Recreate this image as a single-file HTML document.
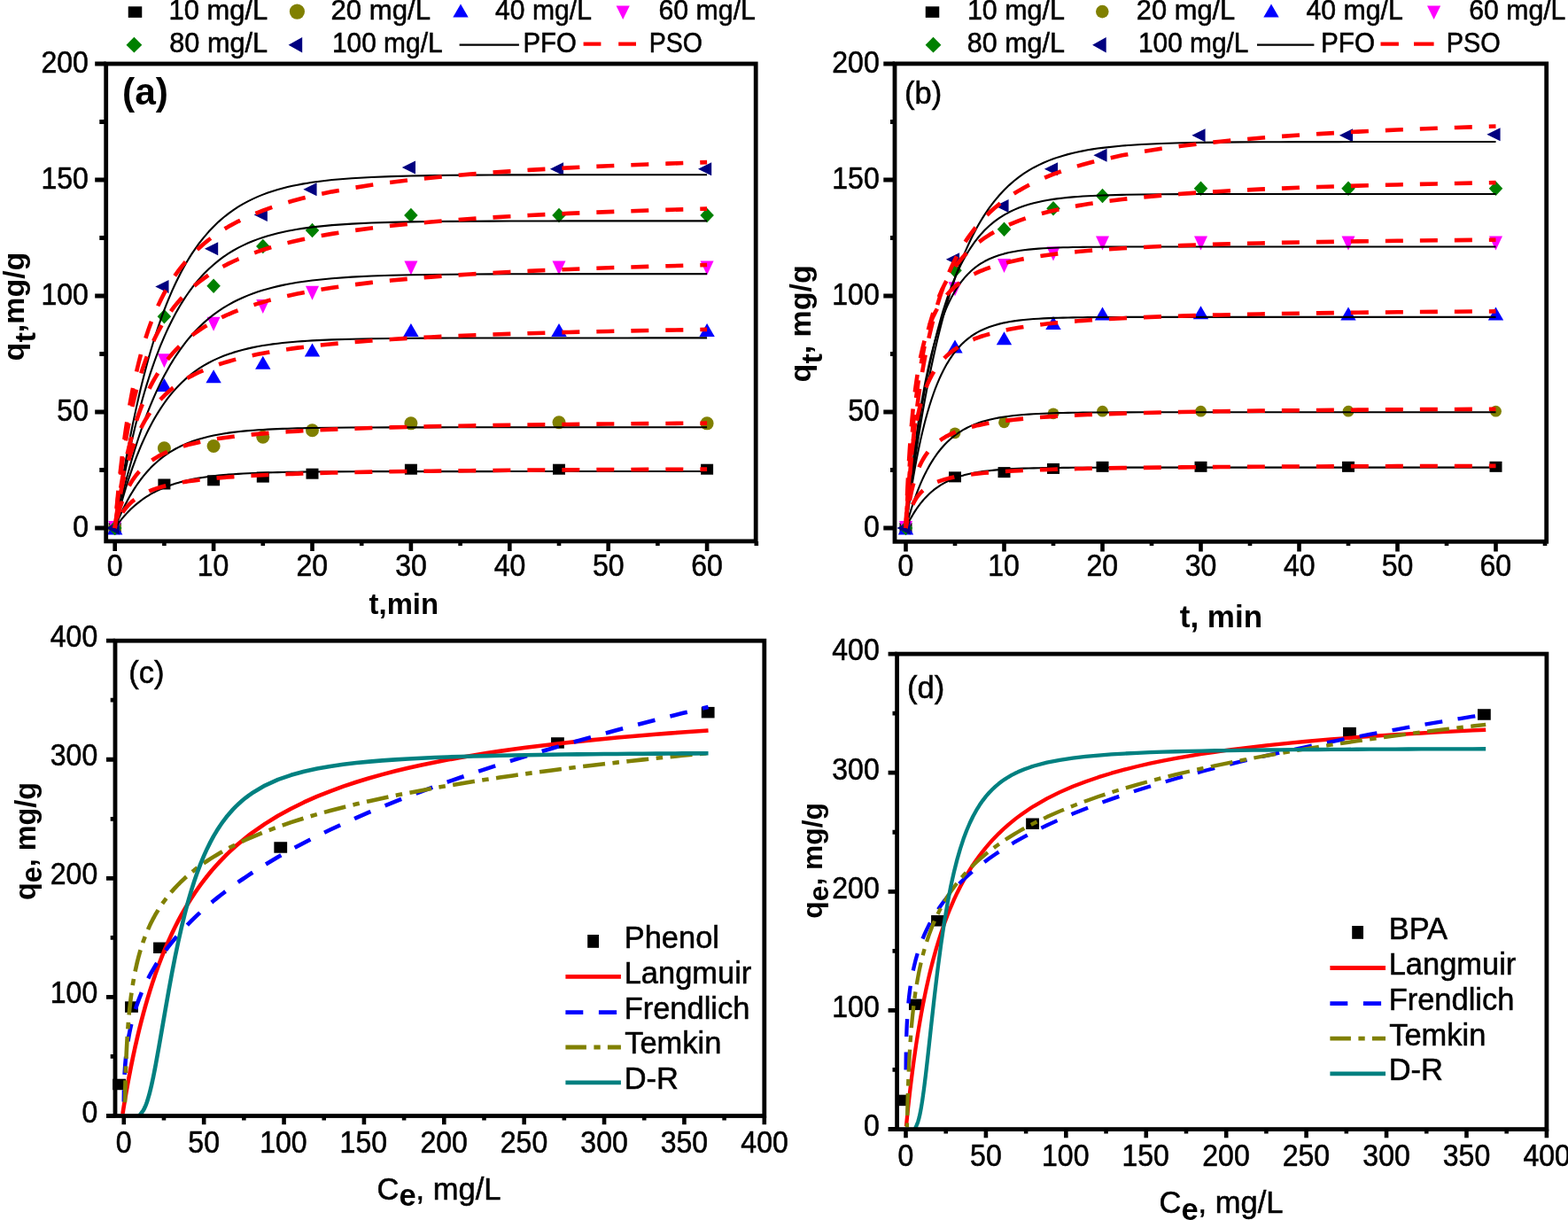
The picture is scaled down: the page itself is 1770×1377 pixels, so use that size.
<!DOCTYPE html><html><head><meta charset="utf-8"><title>Adsorption kinetics and isotherms</title><style>html,body{margin:0;padding:0;background:#fff;overflow:hidden}svg{display:block}</style></head><body><svg width="1770" height="1377" viewBox="0 0 1770 1377" font-family="'Liberation Sans', Arial, sans-serif" fill="#000">
<rect width="1770" height="1377" fill="#fff"/>
<rect x="122.7" y="590" width="14" height="12" fill="#000000"/>
<rect x="178.4" y="540.48" width="14" height="12" fill="#000000"/>
<rect x="234.1" y="536.29" width="14" height="12" fill="#000000"/>
<rect x="289.8" y="532.62" width="14" height="12" fill="#000000"/>
<rect x="345.5" y="528.69" width="14" height="12" fill="#000000"/>
<rect x="456.9" y="523.71" width="14" height="12" fill="#000000"/>
<rect x="624" y="523.71" width="14" height="12" fill="#000000"/>
<rect x="791.1" y="523.71" width="14" height="12" fill="#000000"/>
<circle cx="129.7" cy="596" r="7.5" fill="#808000"/>
<circle cx="185.4" cy="505.87" r="7.5" fill="#808000"/>
<circle cx="241.1" cy="503.51" r="7.5" fill="#808000"/>
<circle cx="296.8" cy="493.3" r="7.5" fill="#808000"/>
<circle cx="352.5" cy="485.7" r="7.5" fill="#808000"/>
<circle cx="463.9" cy="477.84" r="7.5" fill="#808000"/>
<circle cx="631" cy="476.79" r="7.5" fill="#808000"/>
<circle cx="798.1" cy="477.84" r="7.5" fill="#808000"/>
<path d="M129.7,588.5L138.4,603.5L121,603.5Z" fill="#0000ff"/>
<path d="M185.4,427.11L194.1,442.11L176.7,442.11Z" fill="#0000ff"/>
<path d="M241.1,417.15L249.8,432.15L232.4,432.15Z" fill="#0000ff"/>
<path d="M296.8,401.69L305.5,416.69L288.1,416.69Z" fill="#0000ff"/>
<path d="M352.5,387.55L361.2,402.55L343.8,402.55Z" fill="#0000ff"/>
<path d="M463.9,365.01L472.6,380.01L455.2,380.01Z" fill="#0000ff"/>
<path d="M631,365.01L639.7,380.01L622.3,380.01Z" fill="#0000ff"/>
<path d="M798.1,365.01L806.8,380.01L789.4,380.01Z" fill="#0000ff"/>
<path d="M129.7,604L137.2,588L122.2,588Z" fill="#ff00ff"/>
<path d="M185.4,415.36L192.9,399.36L177.9,399.36Z" fill="#ff00ff"/>
<path d="M241.1,373.7L248.6,357.7L233.6,357.7Z" fill="#ff00ff"/>
<path d="M296.8,354.05L304.3,338.05L289.3,338.05Z" fill="#ff00ff"/>
<path d="M352.5,338.86L360,322.86L345,322.86Z" fill="#ff00ff"/>
<path d="M463.9,310.56L471.4,294.56L456.4,294.56Z" fill="#ff00ff"/>
<path d="M631,310.56L638.5,294.56L623.5,294.56Z" fill="#ff00ff"/>
<path d="M798.1,310.56L805.6,294.56L790.6,294.56Z" fill="#ff00ff"/>
<path d="M129.7,587.75L137.45,596L129.7,604.25L121.95,596Z" fill="#008000"/>
<path d="M185.4,349.07L193.15,357.32L185.4,365.57L177.65,357.32Z" fill="#008000"/>
<path d="M241.1,314.48L248.85,322.73L241.1,330.98L233.35,322.73Z" fill="#008000"/>
<path d="M296.8,269.68L304.55,277.93L296.8,286.18L289.05,277.93Z" fill="#008000"/>
<path d="M352.5,251.87L360.25,260.12L352.5,268.37L344.75,260.12Z" fill="#008000"/>
<path d="M463.9,234.84L471.65,243.09L463.9,251.34L456.15,243.09Z" fill="#008000"/>
<path d="M631,234.84L638.75,243.09L631,251.34L623.25,243.09Z" fill="#008000"/>
<path d="M798.1,234.84L805.85,243.09L798.1,251.34L790.35,243.09Z" fill="#008000"/>
<path d="M119.57,596L134.77,588.5L134.77,603.5Z" fill="#000080"/>
<path d="M175.27,323.52L190.47,316.02L190.47,331.02Z" fill="#000080"/>
<path d="M230.97,280.81L246.17,273.31L246.17,288.31Z" fill="#000080"/>
<path d="M286.67,242.56L301.87,235.06L301.87,250.06Z" fill="#000080"/>
<path d="M342.37,213.74L357.57,206.24L357.57,221.24Z" fill="#000080"/>
<path d="M453.77,189.11L468.97,181.61L468.97,196.61Z" fill="#000080"/>
<path d="M620.87,190.69L636.07,183.19L636.07,198.19Z" fill="#000080"/>
<path d="M787.97,190.69L803.17,183.19L803.17,198.19Z" fill="#000080"/>
<path d="M129.7,596 130.81,594.42 131.93,592.87 133.04,591.36 134.16,589.89 135.27,588.46 136.38,587.06 137.5,585.7 138.61,584.37 139.73,583.07 140.84,581.81 141.95,580.58 143.07,579.37 144.18,578.2 145.3,577.06 146.41,575.94 147.52,574.86 148.64,573.8 149.75,572.76 150.87,571.75 151.98,570.77 154.21,568.87 156.44,567.07 158.66,565.36 160.89,563.73 163.12,562.18 165.35,560.7 167.58,559.3 169.8,557.97 172.03,556.7 174.26,555.5 176.49,554.35 178.72,553.26 180.94,552.22 183.17,551.23 185.4,550.3 187.63,549.4 189.86,548.56 192.08,547.75 194.31,546.98 196.54,546.25 198.77,545.56 201,544.9 203.22,544.27 205.45,543.67 207.68,543.1 209.91,542.56 212.14,542.05 214.36,541.56 216.59,541.1 218.82,540.65 224.39,539.64 229.96,538.75 235.53,537.96 241.1,537.27 246.67,536.65 252.24,536.11 257.81,535.64 263.38,535.22 268.95,534.85 274.52,534.52 280.09,534.23 285.66,533.98 291.23,533.75 296.8,533.55 302.37,533.38 307.94,533.22 313.51,533.09 319.08,532.97 324.65,532.86 330.22,532.77 335.79,532.69 341.36,532.61 346.93,532.55 352.5,532.49 374.78,532.33 397.06,532.23 419.34,532.17 441.62,532.13 463.9,532.11 486.18,532.09 508.46,532.08 530.74,532.08 553.02,532.08 575.3,532.07 597.58,532.07 619.86,532.07 642.14,532.07 664.42,532.07 686.7,532.07 708.98,532.07 731.26,532.07 753.54,532.07 775.82,532.07 798.1,532.07" fill="none" stroke="#000" stroke-width="2.1" stroke-linejoin="round"/>
<path d="M129.7,596 130.81,593.18 131.93,590.43 133.04,587.75 134.16,585.14 135.27,582.59 136.38,580.1 137.5,577.68 138.61,575.31 139.73,573.01 140.84,570.76 141.95,568.57 143.07,566.43 144.18,564.34 145.3,562.31 146.41,560.33 147.52,558.39 148.64,556.5 149.75,554.67 150.87,552.87 151.98,551.12 154.21,547.75 156.44,544.55 158.66,541.5 160.89,538.6 163.12,535.84 165.35,533.22 167.58,530.73 169.8,528.36 172.03,526.1 174.26,523.96 176.49,521.92 178.72,519.98 180.94,518.13 183.17,516.38 185.4,514.71 187.63,513.12 189.86,511.61 192.08,510.18 194.31,508.81 196.54,507.51 198.77,506.28 201,505.1 203.22,503.99 205.45,502.92 207.68,501.91 209.91,500.95 212.14,500.04 214.36,499.17 216.59,498.34 218.82,497.56 224.39,495.76 229.96,494.17 235.53,492.77 241.1,491.53 246.67,490.44 252.24,489.48 257.81,488.63 263.38,487.89 268.95,487.23 274.52,486.64 280.09,486.13 285.66,485.68 291.23,485.28 296.8,484.93 302.37,484.62 307.94,484.34 313.51,484.1 319.08,483.89 324.65,483.7 330.22,483.53 335.79,483.39 341.36,483.26 346.93,483.14 352.5,483.04 374.78,482.75 397.06,482.57 419.34,482.46 441.62,482.39 463.9,482.35 486.18,482.33 508.46,482.31 530.74,482.31 553.02,482.3 575.3,482.3 597.58,482.3 619.86,482.29 642.14,482.29 664.42,482.29 686.7,482.29 708.98,482.29 731.26,482.29 753.54,482.29 775.82,482.29 798.1,482.29" fill="none" stroke="#000" stroke-width="2.1" stroke-linejoin="round"/>
<path d="M129.7,596 130.81,591.46 131.93,587.01 133.04,582.66 134.16,578.4 135.27,574.23 136.38,570.14 137.5,566.15 138.61,562.24 139.73,558.41 140.84,554.66 141.95,550.99 143.07,547.4 144.18,543.89 145.3,540.45 146.41,537.08 147.52,533.79 148.64,530.56 149.75,527.4 150.87,524.31 151.98,521.29 154.21,515.43 156.44,509.81 158.66,504.43 160.89,499.28 163.12,494.34 165.35,489.61 167.58,485.08 169.8,480.73 172.03,476.57 174.26,472.59 176.49,468.77 178.72,465.11 180.94,461.6 183.17,458.24 185.4,455.02 187.63,451.94 189.86,448.99 192.08,446.16 194.31,443.44 196.54,440.84 198.77,438.35 201,435.97 203.22,433.68 205.45,431.49 207.68,429.4 209.91,427.39 212.14,425.46 214.36,423.62 216.59,421.85 218.82,420.15 224.39,416.22 229.96,412.69 235.53,409.52 241.1,406.67 246.67,404.11 252.24,401.8 257.81,399.74 263.38,397.88 268.95,396.21 274.52,394.71 280.09,393.36 285.66,392.15 291.23,391.06 296.8,390.08 302.37,389.2 307.94,388.41 313.51,387.7 319.08,387.07 324.65,386.49 330.22,385.98 335.79,385.52 341.36,385.1 346.93,384.73 352.5,384.39 374.78,383.36 397.06,382.68 419.34,382.24 441.62,381.96 463.9,381.77 486.18,381.65 508.46,381.57 530.74,381.52 553.02,381.49 575.3,381.46 597.58,381.45 619.86,381.44 642.14,381.43 664.42,381.43 686.7,381.43 708.98,381.43 731.26,381.42 753.54,381.42 775.82,381.42 798.1,381.42" fill="none" stroke="#000" stroke-width="2.1" stroke-linejoin="round"/>
<path d="M129.7,596 130.81,590.8 131.93,585.69 133.04,580.67 134.16,575.75 135.27,570.91 136.38,566.17 137.5,561.51 138.61,556.93 139.73,552.44 140.84,548.02 141.95,543.69 143.07,539.44 144.18,535.26 145.3,531.16 146.41,527.13 147.52,523.18 148.64,519.3 149.75,515.49 150.87,511.74 151.98,508.07 154.21,500.92 156.44,494.03 158.66,487.38 160.89,480.97 163.12,474.8 165.35,468.84 167.58,463.1 169.8,457.57 172.03,452.23 174.26,447.09 176.49,442.13 178.72,437.35 180.94,432.74 183.17,428.3 185.4,424.01 187.63,419.88 189.86,415.9 192.08,412.07 194.31,408.37 196.54,404.8 198.77,401.36 201,398.04 203.22,394.85 205.45,391.77 207.68,388.8 209.91,385.93 212.14,383.17 214.36,380.51 216.59,377.94 218.82,375.47 224.39,369.67 229.96,364.37 235.53,359.54 241.1,355.13 246.67,351.11 252.24,347.43 257.81,344.08 263.38,341.03 268.95,338.24 274.52,335.69 280.09,333.36 285.66,331.24 291.23,329.31 296.8,327.54 302.37,325.93 307.94,324.46 313.51,323.12 319.08,321.89 324.65,320.78 330.22,319.76 335.79,318.82 341.36,317.97 346.93,317.2 352.5,316.49 374.78,314.23 397.06,312.66 419.34,311.57 441.62,310.82 463.9,310.29 486.18,309.93 508.46,309.68 530.74,309.5 553.02,309.38 575.3,309.3 597.58,309.24 619.86,309.2 642.14,309.17 664.42,309.15 686.7,309.14 708.98,309.13 731.26,309.12 753.54,309.12 775.82,309.12 798.1,309.11" fill="none" stroke="#000" stroke-width="2.1" stroke-linejoin="round"/>
<path d="M129.7,596 130.81,589.31 131.93,582.74 133.04,576.3 134.16,569.99 135.27,563.8 136.38,557.73 137.5,551.77 138.61,545.93 139.73,540.21 140.84,534.59 141.95,529.08 143.07,523.68 144.18,518.38 145.3,513.19 146.41,508.09 147.52,503.1 148.64,498.2 149.75,493.39 150.87,488.68 151.98,484.06 154.21,475.08 156.44,466.45 158.66,458.15 160.89,450.16 163.12,442.48 165.35,435.1 167.58,427.99 169.8,421.16 172.03,414.59 174.26,408.27 176.49,402.19 178.72,396.35 180.94,390.73 183.17,385.32 185.4,380.12 187.63,375.12 189.86,370.31 192.08,365.68 194.31,361.23 196.54,356.96 198.77,352.84 201,348.88 203.22,345.08 205.45,341.42 207.68,337.9 209.91,334.51 212.14,331.25 214.36,328.12 216.59,325.11 218.82,322.21 224.39,315.45 229.96,309.31 235.53,303.74 241.1,298.69 246.67,294.11 252.24,289.95 257.81,286.18 263.38,282.76 268.95,279.66 274.52,276.85 280.09,274.3 285.66,271.98 291.23,269.88 296.8,267.98 302.37,266.25 307.94,264.68 313.51,263.26 319.08,261.97 324.65,260.8 330.22,259.74 335.79,258.77 341.36,257.9 346.93,257.11 352.5,256.39 374.78,254.12 397.06,252.59 419.34,251.55 441.62,250.85 463.9,250.37 486.18,250.05 508.46,249.83 530.74,249.68 553.02,249.58 575.3,249.52 597.58,249.47 619.86,249.44 642.14,249.42 664.42,249.4 686.7,249.39 708.98,249.39 731.26,249.38 753.54,249.38 775.82,249.38 798.1,249.38" fill="none" stroke="#000" stroke-width="2.1" stroke-linejoin="round"/>
<path d="M129.7,596 130.81,588.42 131.93,580.98 133.04,573.68 134.16,566.52 135.27,559.5 136.38,552.61 137.5,545.85 138.61,539.22 139.73,532.72 140.84,526.34 141.95,520.08 143.07,513.94 144.18,507.92 145.3,502.01 146.41,496.21 147.52,490.53 148.64,484.95 149.75,479.48 150.87,474.11 151.98,468.85 154.21,458.61 156.44,448.77 158.66,439.29 160.89,430.17 163.12,421.4 165.35,412.95 167.58,404.83 169.8,397.01 172.03,389.48 174.26,382.24 176.49,375.27 178.72,368.56 180.94,362.11 183.17,355.9 185.4,349.92 187.63,344.17 189.86,338.63 192.08,333.31 194.31,328.18 196.54,323.25 198.77,318.5 201,313.93 203.22,309.54 205.45,305.3 207.68,301.23 209.91,297.32 212.14,293.55 214.36,289.92 216.59,286.43 218.82,283.07 224.39,275.21 229.96,268.07 235.53,261.59 241.1,255.7 246.67,250.35 252.24,245.48 257.81,241.07 263.38,237.06 268.95,233.41 274.52,230.1 280.09,227.09 285.66,224.36 291.23,221.88 296.8,219.62 302.37,217.57 307.94,215.71 313.51,214.02 319.08,212.48 324.65,211.09 330.22,209.82 335.79,208.67 341.36,207.62 346.93,206.67 352.5,205.81 374.78,203.07 397.06,201.21 419.34,199.94 441.62,199.08 463.9,198.49 486.18,198.09 508.46,197.82 530.74,197.63 553.02,197.51 575.3,197.42 597.58,197.36 619.86,197.32 642.14,197.29 664.42,197.28 686.7,197.26 708.98,197.25 731.26,197.25 753.54,197.24 775.82,197.24 798.1,197.24" fill="none" stroke="#000" stroke-width="2.1" stroke-linejoin="round"/>
<path d="M129.7,596 130.81,593.1 131.93,590.44 133.04,587.99 134.16,585.71 135.27,583.6 136.38,581.64 137.5,579.81 138.61,578.1 139.73,576.5 140.84,574.99 141.95,573.57 143.07,572.24 144.18,570.98 145.3,569.78 146.41,568.65 147.52,567.58 148.64,566.56 149.75,565.6 150.87,564.68 151.98,563.8 154.21,562.16 156.44,560.66 158.66,559.28 160.89,558.02 163.12,556.85 165.35,555.76 167.58,554.75 169.8,553.81 172.03,552.93 174.26,552.11 176.49,551.34 178.72,550.61 180.94,549.93 183.17,549.28 185.4,548.67 187.63,548.09 189.86,547.55 192.08,547.03 194.31,546.53 196.54,546.07 198.77,545.62 201,545.19 203.22,544.78 205.45,544.39 207.68,544.02 209.91,543.66 212.14,543.32 214.36,542.99 216.59,542.68 218.82,542.37 224.39,541.67 229.96,541.02 235.53,540.43 241.1,539.89 246.67,539.39 252.24,538.92 257.81,538.49 263.38,538.09 268.95,537.72 274.52,537.37 280.09,537.05 285.66,536.74 291.23,536.46 296.8,536.18 302.37,535.93 307.94,535.69 313.51,535.46 319.08,535.24 324.65,535.04 330.22,534.84 335.79,534.65 341.36,534.48 346.93,534.31 352.5,534.14 374.78,533.56 397.06,533.07 419.34,532.65 441.62,532.28 463.9,531.96 486.18,531.68 508.46,531.42 530.74,531.2 553.02,530.99 575.3,530.81 597.58,530.64 619.86,530.49 642.14,530.35 664.42,530.22 686.7,530.1 708.98,529.99 731.26,529.88 753.54,529.79 775.82,529.7 798.1,529.62" fill="none" stroke="#ff0000" stroke-width="4.6" stroke-dasharray="20 19" stroke-linejoin="round" stroke-dashoffset="19.49"/>
<path d="M129.7,596 130.81,590.84 131.93,586.1 133.04,581.73 134.16,577.68 135.27,573.92 136.38,570.43 137.5,567.16 138.61,564.11 139.73,561.25 140.84,558.57 141.95,556.04 143.07,553.66 144.18,551.42 145.3,549.29 146.41,547.28 147.52,545.37 148.64,543.55 149.75,541.83 150.87,540.18 151.98,538.62 154.21,535.7 156.44,533.02 158.66,530.57 160.89,528.31 163.12,526.22 165.35,524.28 167.58,522.48 169.8,520.81 172.03,519.24 174.26,517.77 176.49,516.39 178.72,515.1 180.94,513.88 183.17,512.73 185.4,511.64 187.63,510.61 189.86,509.63 192.08,508.71 194.31,507.83 196.54,506.99 198.77,506.19 201,505.43 203.22,504.7 205.45,504.01 207.68,503.34 209.91,502.7 212.14,502.09 214.36,501.51 216.59,500.94 218.82,500.4 224.39,499.14 229.96,497.98 235.53,496.93 241.1,495.96 246.67,495.07 252.24,494.24 257.81,493.47 263.38,492.76 268.95,492.1 274.52,491.48 280.09,490.9 285.66,490.35 291.23,489.84 296.8,489.35 302.37,488.9 307.94,488.46 313.51,488.06 319.08,487.67 324.65,487.3 330.22,486.95 335.79,486.62 341.36,486.3 346.93,486 352.5,485.71 374.78,484.67 397.06,483.79 419.34,483.04 441.62,482.39 463.9,481.81 486.18,481.3 508.46,480.85 530.74,480.45 553.02,480.09 575.3,479.76 597.58,479.46 619.86,479.18 642.14,478.93 664.42,478.7 686.7,478.49 708.98,478.29 731.26,478.11 753.54,477.93 775.82,477.78 798.1,477.63" fill="none" stroke="#ff0000" stroke-width="4.6" stroke-dasharray="20 19" stroke-linejoin="round" stroke-dashoffset="27.66"/>
<path d="M129.7,596 130.81,588.05 131.93,580.63 133.04,573.67 134.16,567.15 135.27,561.01 136.38,555.23 137.5,549.77 138.61,544.61 139.73,539.73 140.84,535.1 141.95,530.7 143.07,526.52 144.18,522.54 145.3,518.75 146.41,515.13 147.52,511.68 148.64,508.38 149.75,505.21 150.87,502.19 151.98,499.28 154.21,493.82 156.44,488.77 158.66,484.1 160.89,479.75 163.12,475.7 165.35,471.92 167.58,468.38 169.8,465.07 172.03,461.94 174.26,459.01 176.49,456.24 178.72,453.62 180.94,451.14 183.17,448.79 185.4,446.56 187.63,444.44 189.86,442.43 192.08,440.51 194.31,438.67 196.54,436.93 198.77,435.25 201,433.65 203.22,432.12 205.45,430.65 207.68,429.25 209.91,427.89 212.14,426.59 214.36,425.34 216.59,424.14 218.82,422.98 224.39,420.26 229.96,417.77 235.53,415.49 241.1,413.38 246.67,411.42 252.24,409.61 257.81,407.93 263.38,406.36 268.95,404.89 274.52,403.51 280.09,402.22 285.66,401 291.23,399.86 296.8,398.78 302.37,397.76 307.94,396.79 313.51,395.87 319.08,395 324.65,394.17 330.22,393.38 335.79,392.63 341.36,391.91 346.93,391.22 352.5,390.57 374.78,388.21 397.06,386.2 419.34,384.47 441.62,382.97 463.9,381.64 486.18,380.47 508.46,379.43 530.74,378.49 553.02,377.65 575.3,376.88 597.58,376.19 619.86,375.55 642.14,374.96 664.42,374.42 686.7,373.93 708.98,373.46 731.26,373.03 753.54,372.63 775.82,372.26 798.1,371.91" fill="none" stroke="#ff0000" stroke-width="4.6" stroke-dasharray="20 19" stroke-linejoin="round" stroke-dashoffset="38.98"/>
<path d="M129.7,596 130.81,587.21 131.93,578.9 133.04,571.04 134.16,563.57 135.27,556.49 136.38,549.75 137.5,543.33 138.61,537.22 139.73,531.38 140.84,525.8 141.95,520.47 143.07,515.37 144.18,510.48 145.3,505.79 146.41,501.29 147.52,496.96 148.64,492.81 149.75,488.81 150.87,484.96 151.98,481.25 154.21,474.22 156.44,467.67 158.66,461.56 160.89,455.83 163.12,450.46 165.35,445.4 167.58,440.65 169.8,436.16 172.03,431.92 174.26,427.9 176.49,424.1 178.72,420.48 180.94,417.05 183.17,413.78 185.4,410.67 187.63,407.7 189.86,404.87 192.08,402.15 194.31,399.56 196.54,397.08 198.77,394.69 201,392.41 203.22,390.21 205.45,388.11 207.68,386.08 209.91,384.12 212.14,382.24 214.36,380.43 216.59,378.68 218.82,377 224.39,373.02 229.96,369.37 235.53,366 241.1,362.88 246.67,359.98 252.24,357.28 257.81,354.76 263.38,352.41 268.95,350.2 274.52,348.12 280.09,346.17 285.66,344.33 291.23,342.59 296.8,340.95 302.37,339.39 307.94,337.92 313.51,336.51 319.08,335.18 324.65,333.91 330.22,332.7 335.79,331.54 341.36,330.43 346.93,329.38 352.5,328.37 374.78,324.71 397.06,321.59 419.34,318.9 441.62,316.55 463.9,314.47 486.18,312.63 508.46,310.99 530.74,309.52 553.02,308.18 575.3,306.97 597.58,305.87 619.86,304.86 642.14,303.93 664.42,303.07 686.7,302.28 708.98,301.54 731.26,300.86 753.54,300.22 775.82,299.62 798.1,299.06" fill="none" stroke="#ff0000" stroke-width="4.6" stroke-dasharray="20 19" stroke-linejoin="round" stroke-dashoffset="32.29"/>
<path d="M129.7,596 130.81,584.2 131.93,573.11 133.04,562.68 134.16,552.83 135.27,543.53 136.38,534.74 137.5,526.4 138.61,518.49 139.73,510.98 140.84,503.83 141.95,497.01 143.07,490.52 144.18,484.32 145.3,478.39 146.41,472.72 147.52,467.3 148.64,462.09 149.75,457.1 150.87,452.31 151.98,447.71 154.21,439.02 156.44,430.96 158.66,423.46 160.89,416.48 163.12,409.95 165.35,403.83 167.58,398.09 169.8,392.69 172.03,387.61 174.26,382.8 176.49,378.27 178.72,373.97 180.94,369.9 183.17,366.03 185.4,362.35 187.63,358.85 189.86,355.52 192.08,352.34 194.31,349.3 196.54,346.39 198.77,343.61 201,340.95 203.22,338.39 205.45,335.94 207.68,333.59 209.91,331.32 212.14,329.15 214.36,327.05 216.59,325.03 218.82,323.08 224.39,318.51 229.96,314.32 235.53,310.45 241.1,306.89 246.67,303.58 252.24,300.51 257.81,297.65 263.38,294.98 268.95,292.48 274.52,290.13 280.09,287.93 285.66,285.85 291.23,283.89 296.8,282.04 302.37,280.29 307.94,278.63 313.51,277.06 319.08,275.56 324.65,274.14 330.22,272.78 335.79,271.49 341.36,270.26 346.93,269.08 352.5,267.95 374.78,263.88 397.06,260.41 419.34,257.42 441.62,254.82 463.9,252.53 486.18,250.5 508.46,248.69 530.74,247.06 553.02,245.59 575.3,244.26 597.58,243.05 619.86,241.94 642.14,240.92 664.42,239.98 686.7,239.11 708.98,238.3 731.26,237.55 753.54,236.85 775.82,236.2 798.1,235.59" fill="none" stroke="#ff0000" stroke-width="4.6" stroke-dasharray="20 19" stroke-linejoin="round" stroke-dashoffset="17.54"/>
<path d="M129.7,596 130.81,582.84 131.93,570.45 133.04,558.77 134.16,547.73 135.27,537.3 136.38,527.41 137.5,518.02 138.61,509.11 139.73,500.63 140.84,492.55 141.95,484.85 143.07,477.5 144.18,470.48 145.3,463.76 146.41,457.32 147.52,451.16 148.64,445.24 149.75,439.56 150.87,434.11 151.98,428.86 154.21,418.95 156.44,409.75 158.66,401.18 160.89,393.18 163.12,385.7 165.35,378.69 167.58,372.1 169.8,365.89 172.03,360.05 174.26,354.52 176.49,349.3 178.72,344.35 180.94,339.65 183.17,335.19 185.4,330.94 187.63,326.9 189.86,323.05 192.08,319.37 194.31,315.85 196.54,312.49 198.77,309.27 201,306.18 203.22,303.22 205.45,300.38 207.68,297.65 209.91,295.03 212.14,292.5 214.36,290.07 216.59,287.72 218.82,285.46 224.39,280.15 229.96,275.27 235.53,270.78 241.1,266.62 246.67,262.77 252.24,259.19 257.81,255.86 263.38,252.74 268.95,249.82 274.52,247.08 280.09,244.51 285.66,242.08 291.23,239.8 296.8,237.63 302.37,235.59 307.94,233.65 313.51,231.81 319.08,230.06 324.65,228.39 330.22,226.8 335.79,225.29 341.36,223.84 346.93,222.46 352.5,221.14 374.78,216.37 397.06,212.31 419.34,208.8 441.62,205.74 463.9,203.05 486.18,200.67 508.46,198.54 530.74,196.63 553.02,194.9 575.3,193.34 597.58,191.91 619.86,190.6 642.14,189.4 664.42,188.3 686.7,187.27 708.98,186.32 731.26,185.44 753.54,184.62 775.82,183.85 798.1,183.13" fill="none" stroke="#ff0000" stroke-width="4.6" stroke-dasharray="20 19" stroke-linejoin="round" stroke-dashoffset="16.57"/>
<rect x="119.7" y="72" width="733.5" height="538.9" fill="none" stroke="#000" stroke-width="4.8"/>
<path d="M129.7,610.9V622M241.1,610.9V622M352.5,610.9V622M463.9,610.9V622M575.3,610.9V622M686.7,610.9V622M798.1,610.9V622M185.4,610.9V616M296.8,610.9V616M408.2,610.9V616M519.6,610.9V616M631,610.9V616M742.4,610.9V616M853.8,610.9V616" stroke="#000" stroke-width="4.6"/>
<path d="M119.7,596H107.2M119.7,465H107.2M119.7,334H107.2M119.7,203H107.2M119.7,72H107.2M119.7,530.5H112.3M119.7,399.5H112.3M119.7,268.5H112.3M119.7,137.5H112.3" stroke="#000" stroke-width="4.8"/>
<text transform="translate(120.77,650.2) scale(0.915,1)" font-size="35" stroke="#000" stroke-width="0.55">0</text>
<text transform="translate(222.73,650.2) scale(0.915,1)" font-size="35" stroke="#000" stroke-width="0.55">10</text>
<text transform="translate(334.53,650.2) scale(0.915,1)" font-size="35" stroke="#000" stroke-width="0.55">20</text>
<text transform="translate(446.13,650.2) scale(0.915,1)" font-size="35" stroke="#000" stroke-width="0.55">30</text>
<text transform="translate(557.77,650.2) scale(0.915,1)" font-size="35" stroke="#000" stroke-width="0.55">40</text>
<text transform="translate(668.89,650.2) scale(0.915,1)" font-size="35" stroke="#000" stroke-width="0.55">50</text>
<text transform="translate(780.13,650.2) scale(0.915,1)" font-size="35" stroke="#000" stroke-width="0.55">60</text>
<text transform="translate(82.13,605.8) scale(0.915,1)" font-size="35" stroke="#000" stroke-width="0.55">0</text>
<text transform="translate(64.35,474.8) scale(0.915,1)" font-size="35" stroke="#000" stroke-width="0.55">50</text>
<text transform="translate(46.5,343.8) scale(0.915,1)" font-size="35" stroke="#000" stroke-width="0.55">100</text>
<text transform="translate(46.5,212.8) scale(0.915,1)" font-size="35" stroke="#000" stroke-width="0.55">150</text>
<text transform="translate(46.5,81.8) scale(0.915,1)" font-size="35" stroke="#000" stroke-width="0.55">200</text>
<rect x="1015.5" y="590" width="14" height="12" fill="#000000"/>
<rect x="1071" y="532.36" width="14" height="12" fill="#000000"/>
<rect x="1126.5" y="527.12" width="14" height="12" fill="#000000"/>
<rect x="1182" y="522.93" width="14" height="12" fill="#000000"/>
<rect x="1237.5" y="520.83" width="14" height="12" fill="#000000"/>
<rect x="1348.5" y="520.83" width="14" height="12" fill="#000000"/>
<rect x="1515" y="520.83" width="14" height="12" fill="#000000"/>
<rect x="1681.5" y="520.83" width="14" height="12" fill="#000000"/>
<circle cx="1022.5" cy="596" r="6.4" fill="#808000"/>
<circle cx="1078" cy="488.84" r="6.4" fill="#808000"/>
<circle cx="1133.5" cy="476.79" r="6.4" fill="#808000"/>
<circle cx="1189" cy="466.83" r="6.4" fill="#808000"/>
<circle cx="1244.5" cy="464.21" r="6.4" fill="#808000"/>
<circle cx="1355.5" cy="464.21" r="6.4" fill="#808000"/>
<circle cx="1522" cy="464.21" r="6.4" fill="#808000"/>
<circle cx="1688.5" cy="464.21" r="6.4" fill="#808000"/>
<path d="M1022.5,588.5L1031.2,603.5L1013.8,603.5Z" fill="#0000ff"/>
<path d="M1078,383.62L1086.7,398.62L1069.3,398.62Z" fill="#0000ff"/>
<path d="M1133.5,374.18L1142.2,389.18L1124.8,389.18Z" fill="#0000ff"/>
<path d="M1189,356.89L1197.7,371.89L1180.3,371.89Z" fill="#0000ff"/>
<path d="M1244.5,346.41L1253.2,361.41L1235.8,361.41Z" fill="#0000ff"/>
<path d="M1355.5,345.36L1364.2,360.36L1346.8,360.36Z" fill="#0000ff"/>
<path d="M1522,346.41L1530.7,361.41L1513.3,361.41Z" fill="#0000ff"/>
<path d="M1688.5,346.41L1697.2,361.41L1679.8,361.41Z" fill="#0000ff"/>
<path d="M1022.5,604L1030,588L1015,588Z" fill="#ff00ff"/>
<path d="M1078,334.14L1085.5,318.14L1070.5,318.14Z" fill="#ff00ff"/>
<path d="M1133.5,307.94L1141,291.94L1126,291.94Z" fill="#ff00ff"/>
<path d="M1189,294.58L1196.5,278.58L1181.5,278.58Z" fill="#ff00ff"/>
<path d="M1244.5,282.53L1252,266.53L1237,266.53Z" fill="#ff00ff"/>
<path d="M1355.5,282.53L1363,266.53L1348,266.53Z" fill="#ff00ff"/>
<path d="M1522,282.53L1529.5,266.53L1514.5,266.53Z" fill="#ff00ff"/>
<path d="M1688.5,282.53L1696,266.53L1681,266.53Z" fill="#ff00ff"/>
<path d="M1022.5,587.75L1030.25,596L1022.5,604.25L1014.75,596Z" fill="#008000"/>
<path d="M1078,296.93L1085.75,305.18L1078,313.43L1070.25,305.18Z" fill="#008000"/>
<path d="M1133.5,250.56L1141.25,258.81L1133.5,267.06L1125.75,258.81Z" fill="#008000"/>
<path d="M1189,226.98L1196.75,235.23L1189,243.48L1181.25,235.23Z" fill="#008000"/>
<path d="M1244.5,212.83L1252.25,221.08L1244.5,229.33L1236.75,221.08Z" fill="#008000"/>
<path d="M1355.5,204.44L1363.25,212.69L1355.5,220.94L1347.75,212.69Z" fill="#008000"/>
<path d="M1522,204.44L1529.75,212.69L1522,220.94L1514.25,212.69Z" fill="#008000"/>
<path d="M1688.5,204.44L1696.25,212.69L1688.5,220.94L1680.75,212.69Z" fill="#008000"/>
<path d="M1012.37,596L1027.57,588.5L1027.57,603.5Z" fill="#000080"/>
<path d="M1067.87,292.87L1083.07,285.37L1083.07,300.37Z" fill="#000080"/>
<path d="M1123.37,232.61L1138.57,225.11L1138.57,240.11Z" fill="#000080"/>
<path d="M1178.87,190.69L1194.07,183.19L1194.07,198.19Z" fill="#000080"/>
<path d="M1234.37,175.23L1249.57,167.73L1249.57,182.73Z" fill="#000080"/>
<path d="M1345.37,152.7L1360.57,145.2L1360.57,160.2Z" fill="#000080"/>
<path d="M1511.87,152.7L1527.07,145.2L1527.07,160.2Z" fill="#000080"/>
<path d="M1678.37,151.65L1693.57,144.15L1693.57,159.15Z" fill="#000080"/>
<path d="M1022.5,596 1023.61,593.66 1024.72,591.4 1025.83,589.22 1026.94,587.11 1028.05,585.08 1029.16,583.11 1030.27,581.22 1031.38,579.38 1032.49,577.61 1033.6,575.9 1034.71,574.25 1035.82,572.66 1036.93,571.12 1038.04,569.63 1039.15,568.19 1040.26,566.8 1041.37,565.46 1042.48,564.17 1043.59,562.92 1044.7,561.71 1046.92,559.42 1049.14,557.28 1051.36,555.29 1053.58,553.43 1055.8,551.69 1058.02,550.07 1060.24,548.56 1062.46,547.15 1064.68,545.84 1066.9,544.62 1069.12,543.47 1071.34,542.41 1073.56,541.41 1075.78,540.49 1078,539.62 1080.22,538.81 1082.44,538.06 1084.66,537.36 1086.88,536.7 1089.1,536.09 1091.32,535.52 1093.54,534.99 1095.76,534.5 1097.98,534.03 1100.2,533.6 1102.42,533.2 1104.64,532.82 1106.86,532.47 1109.08,532.15 1111.3,531.84 1116.85,531.17 1122.4,530.6 1127.95,530.13 1133.5,529.72 1139.05,529.39 1144.6,529.11 1150.15,528.87 1155.7,528.67 1161.25,528.5 1166.8,528.36 1172.35,528.24 1177.9,528.14 1183.45,528.06 1189,527.99 1194.55,527.93 1200.1,527.88 1205.65,527.84 1211.2,527.8 1216.75,527.77 1222.3,527.75 1227.85,527.73 1233.4,527.71 1238.95,527.7 1244.5,527.68 1266.7,527.65 1288.9,527.63 1311.1,527.63 1333.3,527.62 1355.5,527.62 1377.7,527.62 1399.9,527.62 1422.1,527.62 1444.3,527.62 1466.5,527.62 1488.7,527.62 1510.9,527.62 1533.1,527.62 1555.3,527.62 1577.5,527.62 1599.7,527.62 1621.9,527.62 1644.1,527.62 1666.3,527.62 1688.5,527.62" fill="none" stroke="#000" stroke-width="2.1" stroke-linejoin="round"/>
<path d="M1022.5,596 1023.61,591.86 1024.72,587.85 1025.83,583.96 1026.94,580.2 1028.05,576.56 1029.16,573.03 1030.27,569.62 1031.38,566.31 1032.49,563.11 1033.6,560.01 1034.71,557.01 1035.82,554.1 1036.93,551.28 1038.04,548.56 1039.15,545.92 1040.26,543.36 1041.37,540.89 1042.48,538.49 1043.59,536.17 1044.7,533.92 1046.92,529.64 1049.14,525.63 1051.36,521.86 1053.58,518.33 1055.8,515.02 1058.02,511.92 1060.24,509.01 1062.46,506.28 1064.68,503.72 1066.9,501.32 1069.12,499.07 1071.34,496.96 1073.56,494.99 1075.78,493.13 1078,491.39 1080.22,489.76 1082.44,488.24 1084.66,486.8 1086.88,485.46 1089.1,484.2 1091.32,483.02 1093.54,481.91 1095.76,480.87 1097.98,479.9 1100.2,478.99 1102.42,478.13 1104.64,477.33 1106.86,476.58 1109.08,475.87 1111.3,475.21 1116.85,473.73 1122.4,472.47 1127.95,471.4 1133.5,470.49 1139.05,469.71 1144.6,469.05 1150.15,468.48 1155.7,468.01 1161.25,467.6 1166.8,467.25 1172.35,466.95 1177.9,466.7 1183.45,466.49 1189,466.31 1194.55,466.15 1200.1,466.02 1205.65,465.91 1211.2,465.81 1216.75,465.73 1222.3,465.66 1227.85,465.6 1233.4,465.55 1238.95,465.51 1244.5,465.47 1266.7,465.37 1288.9,465.32 1311.1,465.29 1333.3,465.28 1355.5,465.27 1377.7,465.27 1399.9,465.26 1422.1,465.26 1444.3,465.26 1466.5,465.26 1488.7,465.26 1510.9,465.26 1533.1,465.26 1555.3,465.26 1577.5,465.26 1599.7,465.26 1621.9,465.26 1644.1,465.26 1666.3,465.26 1688.5,465.26" fill="none" stroke="#000" stroke-width="2.1" stroke-linejoin="round"/>
<path d="M1022.5,596 1023.61,587.58 1024.72,579.46 1025.83,571.62 1026.94,564.06 1028.05,556.77 1029.16,549.73 1030.27,542.95 1031.38,536.4 1032.49,530.09 1033.6,524 1034.71,518.12 1035.82,512.46 1036.93,506.99 1038.04,501.72 1039.15,496.63 1040.26,491.72 1041.37,486.99 1042.48,482.42 1043.59,478.02 1044.7,473.77 1046.92,465.71 1049.14,458.22 1051.36,451.25 1053.58,444.76 1055.8,438.72 1058.02,433.1 1060.24,427.87 1062.46,423.01 1064.68,418.48 1066.9,414.27 1069.12,410.35 1071.34,406.7 1073.56,403.31 1075.78,400.15 1078,397.21 1080.22,394.47 1082.44,391.93 1084.66,389.56 1086.88,387.36 1089.1,385.31 1091.32,383.4 1093.54,381.62 1095.76,379.97 1097.98,378.43 1100.2,377 1102.42,375.67 1104.64,374.43 1106.86,373.28 1109.08,372.21 1111.3,371.21 1116.85,369.01 1122.4,367.17 1127.95,365.63 1133.5,364.35 1139.05,363.28 1144.6,362.38 1150.15,361.63 1155.7,361.01 1161.25,360.49 1166.8,360.05 1172.35,359.69 1177.9,359.38 1183.45,359.13 1189,358.92 1194.55,358.74 1200.1,358.59 1205.65,358.47 1211.2,358.37 1216.75,358.28 1222.3,358.21 1227.85,358.15 1233.4,358.1 1238.95,358.05 1244.5,358.02 1266.7,357.93 1288.9,357.88 1311.1,357.86 1333.3,357.85 1355.5,357.85 1377.7,357.84 1399.9,357.84 1422.1,357.84 1444.3,357.84 1466.5,357.84 1488.7,357.84 1510.9,357.84 1533.1,357.84 1555.3,357.84 1577.5,357.84 1599.7,357.84 1621.9,357.84 1644.1,357.84 1666.3,357.84 1688.5,357.84" fill="none" stroke="#000" stroke-width="2.1" stroke-linejoin="round"/>
<path d="M1022.5,596 1023.61,584.5 1024.72,573.41 1025.83,562.72 1026.94,552.43 1028.05,542.5 1029.16,532.93 1030.27,523.72 1031.38,514.83 1032.49,506.27 1033.6,498.01 1034.71,490.06 1035.82,482.39 1036.93,475.01 1038.04,467.89 1039.15,461.02 1040.26,454.41 1041.37,448.03 1042.48,441.89 1043.59,435.97 1044.7,430.26 1046.92,419.46 1049.14,409.43 1051.36,400.11 1053.58,391.46 1055.8,383.42 1058.02,375.95 1060.24,369.02 1062.46,362.57 1064.68,356.59 1066.9,351.03 1069.12,345.87 1071.34,341.07 1073.56,336.62 1075.78,332.48 1078,328.64 1080.22,325.07 1082.44,321.75 1084.66,318.67 1086.88,315.81 1089.1,313.15 1091.32,310.68 1093.54,308.39 1095.76,306.26 1097.98,304.28 1100.2,302.45 1102.42,300.74 1104.64,299.15 1106.86,297.68 1109.08,296.31 1111.3,295.04 1116.85,292.25 1122.4,289.92 1127.95,287.99 1133.5,286.39 1139.05,285.05 1144.6,283.94 1150.15,283.02 1155.7,282.25 1161.25,281.61 1166.8,281.08 1172.35,280.64 1177.9,280.27 1183.45,279.96 1189,279.71 1194.55,279.5 1200.1,279.32 1205.65,279.18 1211.2,279.06 1216.75,278.95 1222.3,278.87 1227.85,278.8 1233.4,278.74 1238.95,278.69 1244.5,278.65 1266.7,278.55 1288.9,278.5 1311.1,278.48 1333.3,278.47 1355.5,278.46 1377.7,278.46 1399.9,278.46 1422.1,278.46 1444.3,278.46 1466.5,278.46 1488.7,278.46 1510.9,278.46 1533.1,278.46 1555.3,278.46 1577.5,278.46 1599.7,278.46 1621.9,278.46 1644.1,278.46 1666.3,278.46 1688.5,278.46" fill="none" stroke="#000" stroke-width="2.1" stroke-linejoin="round"/>
<path d="M1022.5,596 1023.61,585.7 1024.72,575.68 1025.83,565.94 1026.94,556.46 1028.05,547.24 1029.16,538.27 1030.27,529.55 1031.38,521.06 1032.49,512.81 1033.6,504.78 1034.71,496.97 1035.82,489.38 1036.93,481.99 1038.04,474.81 1039.15,467.82 1040.26,461.02 1041.37,454.41 1042.48,447.98 1043.59,441.72 1044.7,435.63 1046.92,423.96 1049.14,412.91 1051.36,402.46 1053.58,392.57 1055.8,383.22 1058.02,374.36 1060.24,365.99 1062.46,358.07 1064.68,350.57 1066.9,343.48 1069.12,336.77 1071.34,330.42 1073.56,324.42 1075.78,318.73 1078,313.36 1080.22,308.27 1082.44,303.46 1084.66,298.91 1086.88,294.6 1089.1,290.52 1091.32,286.67 1093.54,283.02 1095.76,279.57 1097.98,276.3 1100.2,273.22 1102.42,270.29 1104.64,267.53 1106.86,264.91 1109.08,262.44 1111.3,260.09 1116.85,254.78 1122.4,250.15 1127.95,246.12 1133.5,242.61 1139.05,239.55 1144.6,236.89 1150.15,234.57 1155.7,232.56 1161.25,230.8 1166.8,229.27 1172.35,227.94 1177.9,226.78 1183.45,225.77 1189,224.9 1194.55,224.13 1200.1,223.47 1205.65,222.89 1211.2,222.38 1216.75,221.94 1222.3,221.56 1227.85,221.22 1233.4,220.93 1238.95,220.68 1244.5,220.46 1266.7,219.83 1288.9,219.47 1311.1,219.26 1333.3,219.14 1355.5,219.07 1377.7,219.04 1399.9,219.01 1422.1,219 1444.3,218.99 1466.5,218.99 1488.7,218.99 1510.9,218.98 1533.1,218.98 1555.3,218.98 1577.5,218.98 1599.7,218.98 1621.9,218.98 1644.1,218.98 1666.3,218.98 1688.5,218.98" fill="none" stroke="#000" stroke-width="2.1" stroke-linejoin="round"/>
<path d="M1022.5,596 1023.61,587.03 1024.72,578.24 1025.83,569.63 1026.94,561.2 1028.05,552.94 1029.16,544.85 1030.27,536.93 1031.38,529.17 1032.49,521.57 1033.6,514.13 1034.71,506.84 1035.82,499.7 1036.93,492.71 1038.04,485.86 1039.15,479.15 1040.26,472.58 1041.37,466.15 1042.48,459.85 1043.59,453.68 1044.7,447.63 1046.92,435.91 1049.14,424.67 1051.36,413.89 1053.58,403.54 1055.8,393.62 1058.02,384.1 1060.24,374.97 1062.46,366.22 1064.68,357.81 1066.9,349.76 1069.12,342.03 1071.34,334.61 1073.56,327.5 1075.78,320.67 1078,314.13 1080.22,307.85 1082.44,301.83 1084.66,296.05 1086.88,290.51 1089.1,285.19 1091.32,280.09 1093.54,275.2 1095.76,270.5 1097.98,266 1100.2,261.69 1102.42,257.54 1104.64,253.57 1106.86,249.76 1109.08,246.1 1111.3,242.6 1116.85,234.44 1122.4,227.09 1127.95,220.47 1133.5,214.5 1139.05,209.12 1144.6,204.27 1150.15,199.9 1155.7,195.96 1161.25,192.41 1166.8,189.21 1172.35,186.33 1177.9,183.73 1183.45,181.39 1189,179.28 1194.55,177.38 1200.1,175.67 1205.65,174.12 1211.2,172.73 1216.75,171.48 1222.3,170.35 1227.85,169.33 1233.4,168.41 1238.95,167.58 1244.5,166.84 1266.7,164.52 1288.9,162.99 1311.1,161.99 1333.3,161.32 1355.5,160.88 1377.7,160.59 1399.9,160.4 1422.1,160.28 1444.3,160.19 1466.5,160.14 1488.7,160.1 1510.9,160.08 1533.1,160.06 1555.3,160.05 1577.5,160.05 1599.7,160.04 1621.9,160.04 1644.1,160.04 1666.3,160.03 1688.5,160.03" fill="none" stroke="#000" stroke-width="2.1" stroke-linejoin="round"/>
<path d="M1022.5,596 1023.61,590.49 1024.72,585.77 1025.83,581.67 1026.94,578.09 1028.05,574.94 1029.16,572.13 1030.27,569.62 1031.38,567.36 1032.49,565.31 1033.6,563.46 1034.71,561.76 1035.82,560.2 1036.93,558.77 1038.04,557.45 1039.15,556.23 1040.26,555.1 1041.37,554.04 1042.48,553.05 1043.59,552.13 1044.7,551.27 1046.92,549.69 1049.14,548.29 1051.36,547.03 1053.58,545.9 1055.8,544.88 1058.02,543.96 1060.24,543.11 1062.46,542.33 1064.68,541.62 1066.9,540.96 1069.12,540.35 1071.34,539.78 1073.56,539.25 1075.78,538.76 1078,538.3 1080.22,537.87 1082.44,537.46 1084.66,537.08 1086.88,536.72 1089.1,536.38 1091.32,536.06 1093.54,535.75 1095.76,535.46 1097.98,535.19 1100.2,534.93 1102.42,534.68 1104.64,534.44 1106.86,534.21 1109.08,534 1111.3,533.79 1116.85,533.31 1122.4,532.88 1127.95,532.48 1133.5,532.13 1139.05,531.8 1144.6,531.5 1150.15,531.22 1155.7,530.97 1161.25,530.73 1166.8,530.51 1172.35,530.3 1177.9,530.11 1183.45,529.93 1189,529.76 1194.55,529.61 1200.1,529.46 1205.65,529.32 1211.2,529.18 1216.75,529.06 1222.3,528.94 1227.85,528.82 1233.4,528.72 1238.95,528.61 1244.5,528.52 1266.7,528.17 1288.9,527.87 1311.1,527.62 1333.3,527.41 1355.5,527.22 1377.7,527.05 1399.9,526.91 1422.1,526.78 1444.3,526.66 1466.5,526.55 1488.7,526.46 1510.9,526.37 1533.1,526.29 1555.3,526.22 1577.5,526.15 1599.7,526.08 1621.9,526.03 1644.1,525.97 1666.3,525.92 1688.5,525.87" fill="none" stroke="#ff0000" stroke-width="4.6" stroke-dasharray="20 19" stroke-linejoin="round" stroke-dashoffset="11.50"/>
<path d="M1022.5,596 1023.61,586.53 1024.72,578.28 1025.83,571.03 1026.94,564.61 1028.05,558.89 1029.16,553.75 1030.27,549.11 1031.38,544.91 1032.49,541.08 1033.6,537.57 1034.71,534.35 1035.82,531.38 1036.93,528.64 1038.04,526.1 1039.15,523.73 1040.26,521.53 1041.37,519.47 1042.48,517.54 1043.59,515.73 1044.7,514.03 1046.92,510.91 1049.14,508.13 1051.36,505.63 1053.58,503.36 1055.8,501.31 1058.02,499.44 1060.24,497.72 1062.46,496.15 1064.68,494.69 1066.9,493.35 1069.12,492.1 1071.34,490.94 1073.56,489.86 1075.78,488.84 1078,487.89 1080.22,487 1082.44,486.16 1084.66,485.37 1086.88,484.63 1089.1,483.92 1091.32,483.25 1093.54,482.62 1095.76,482.02 1097.98,481.45 1100.2,480.9 1102.42,480.38 1104.64,479.89 1106.86,479.42 1109.08,478.96 1111.3,478.53 1116.85,477.52 1122.4,476.62 1127.95,475.79 1133.5,475.04 1139.05,474.35 1144.6,473.72 1150.15,473.13 1155.7,472.59 1161.25,472.09 1166.8,471.62 1172.35,471.19 1177.9,470.78 1183.45,470.4 1189,470.04 1194.55,469.71 1200.1,469.39 1205.65,469.09 1211.2,468.81 1216.75,468.54 1222.3,468.29 1227.85,468.05 1233.4,467.82 1238.95,467.6 1244.5,467.39 1266.7,466.65 1288.9,466.02 1311.1,465.49 1333.3,465.03 1355.5,464.62 1377.7,464.27 1399.9,463.95 1422.1,463.67 1444.3,463.42 1466.5,463.19 1488.7,462.99 1510.9,462.8 1533.1,462.63 1555.3,462.47 1577.5,462.32 1599.7,462.19 1621.9,462.06 1644.1,461.94 1666.3,461.83 1688.5,461.73" fill="none" stroke="#ff0000" stroke-width="4.6" stroke-dasharray="20 19" stroke-linejoin="round" stroke-dashoffset="7.50"/>
<path d="M1022.5,596 1023.61,576.48 1024.72,559.79 1025.83,545.36 1026.94,532.76 1028.05,521.66 1029.16,511.81 1030.27,503.01 1031.38,495.1 1032.49,487.95 1033.6,481.46 1034.71,475.54 1035.82,470.11 1036.93,465.13 1038.04,460.53 1039.15,456.27 1040.26,452.32 1041.37,448.65 1042.48,445.22 1043.59,442.01 1044.7,439.01 1046.92,433.54 1049.14,428.68 1051.36,424.33 1053.58,420.42 1055.8,416.88 1058.02,413.67 1060.24,410.74 1062.46,408.05 1064.68,405.58 1066.9,403.31 1069.12,401.2 1071.34,399.24 1073.56,397.41 1075.78,395.71 1078,394.12 1080.22,392.63 1082.44,391.23 1084.66,389.91 1086.88,388.67 1089.1,387.5 1091.32,386.39 1093.54,385.34 1095.76,384.34 1097.98,383.39 1100.2,382.49 1102.42,381.64 1104.64,380.82 1106.86,380.04 1109.08,379.29 1111.3,378.58 1116.85,376.93 1122.4,375.44 1127.95,374.08 1133.5,372.85 1139.05,371.73 1144.6,370.7 1150.15,369.74 1155.7,368.87 1161.25,368.05 1166.8,367.29 1172.35,366.59 1177.9,365.93 1183.45,365.31 1189,364.73 1194.55,364.19 1200.1,363.68 1205.65,363.19 1211.2,362.73 1216.75,362.3 1222.3,361.89 1227.85,361.5 1233.4,361.13 1238.95,360.78 1244.5,360.45 1266.7,359.25 1288.9,358.24 1311.1,357.38 1333.3,356.64 1355.5,356 1377.7,355.43 1399.9,354.93 1422.1,354.48 1444.3,354.07 1466.5,353.71 1488.7,353.38 1510.9,353.08 1533.1,352.8 1555.3,352.55 1577.5,352.32 1599.7,352.1 1621.9,351.9 1644.1,351.71 1666.3,351.54 1688.5,351.38" fill="none" stroke="#ff0000" stroke-width="4.6" stroke-dasharray="20 19" stroke-linejoin="round" stroke-dashoffset="34.03"/>
<path d="M1022.5,596 1023.61,567.88 1024.72,544.17 1025.83,523.89 1026.94,506.36 1028.05,491.06 1029.16,477.57 1030.27,465.61 1031.38,454.92 1032.49,445.31 1033.6,436.62 1034.71,428.73 1035.82,421.54 1036.93,414.95 1038.04,408.89 1039.15,403.3 1040.26,398.13 1041.37,393.33 1042.48,388.87 1043.59,384.7 1044.7,380.81 1046.92,373.73 1049.14,367.47 1051.36,361.89 1053.58,356.88 1055.8,352.37 1058.02,348.27 1060.24,344.55 1062.46,341.14 1064.68,338.01 1066.9,335.13 1069.12,332.46 1071.34,329.99 1073.56,327.7 1075.78,325.56 1078,323.56 1080.22,321.69 1082.44,319.93 1084.66,318.28 1086.88,316.73 1089.1,315.26 1091.32,313.88 1093.54,312.57 1095.76,311.32 1097.98,310.14 1100.2,309.02 1102.42,307.95 1104.64,306.94 1106.86,305.97 1109.08,305.04 1111.3,304.15 1116.85,302.1 1122.4,300.25 1127.95,298.58 1133.5,297.05 1139.05,295.66 1144.6,294.39 1150.15,293.21 1155.7,292.13 1161.25,291.12 1166.8,290.19 1172.35,289.32 1177.9,288.51 1183.45,287.75 1189,287.03 1194.55,286.36 1200.1,285.73 1205.65,285.14 1211.2,284.58 1216.75,284.05 1222.3,283.54 1227.85,283.06 1233.4,282.61 1238.95,282.18 1244.5,281.77 1266.7,280.3 1288.9,279.07 1311.1,278.01 1333.3,277.11 1355.5,276.32 1377.7,275.62 1399.9,275.01 1422.1,274.46 1444.3,273.97 1466.5,273.52 1488.7,273.12 1510.9,272.75 1533.1,272.41 1555.3,272.11 1577.5,271.82 1599.7,271.56 1621.9,271.31 1644.1,271.09 1666.3,270.87 1688.5,270.68" fill="none" stroke="#ff0000" stroke-width="4.6" stroke-dasharray="20 19" stroke-linejoin="round" stroke-dashoffset="2.26"/>
<path d="M1022.5,596 1023.61,575.05 1024.72,556.17 1025.83,539.08 1026.94,523.53 1028.05,509.33 1029.16,496.3 1030.27,484.3 1031.38,473.22 1032.49,462.96 1033.6,453.42 1034.71,444.54 1035.82,436.25 1036.93,428.49 1038.04,421.21 1039.15,414.37 1040.26,407.93 1041.37,401.86 1042.48,396.12 1043.59,390.69 1044.7,385.55 1046.92,376.03 1049.14,367.42 1051.36,359.58 1053.58,352.42 1055.8,345.86 1058.02,339.82 1060.24,334.24 1062.46,329.08 1064.68,324.28 1066.9,319.81 1069.12,315.64 1071.34,311.74 1073.56,308.08 1075.78,304.65 1078,301.41 1080.22,298.36 1082.44,295.48 1084.66,292.75 1086.88,290.17 1089.1,287.71 1091.32,285.39 1093.54,283.17 1095.76,281.06 1097.98,279.05 1100.2,277.13 1102.42,275.29 1104.64,273.53 1106.86,271.85 1109.08,270.24 1111.3,268.69 1116.85,265.09 1122.4,261.82 1127.95,258.84 1133.5,256.11 1139.05,253.61 1144.6,251.29 1150.15,249.16 1155.7,247.17 1161.25,245.33 1166.8,243.61 1172.35,242 1177.9,240.49 1183.45,239.08 1189,237.75 1194.55,236.5 1200.1,235.32 1205.65,234.2 1211.2,233.14 1216.75,232.13 1222.3,231.18 1227.85,230.27 1233.4,229.41 1238.95,228.59 1244.5,227.81 1266.7,225 1288.9,222.62 1311.1,220.59 1333.3,218.83 1355.5,217.29 1377.7,215.93 1399.9,214.73 1422.1,213.65 1444.3,212.68 1466.5,211.81 1488.7,211.01 1510.9,210.28 1533.1,209.62 1555.3,209 1577.5,208.44 1599.7,207.91 1621.9,207.43 1644.1,206.98 1666.3,206.55 1688.5,206.16" fill="none" stroke="#ff0000" stroke-width="4.6" stroke-dasharray="20 19" stroke-linejoin="round" stroke-dashoffset="8.57"/>
<path d="M1022.5,596 1023.61,579.86 1024.72,564.78 1025.83,550.66 1026.94,537.41 1028.05,524.96 1029.16,513.23 1030.27,502.16 1031.38,491.69 1032.49,481.79 1033.6,472.4 1034.71,463.49 1035.82,455.02 1036.93,446.96 1038.04,439.27 1039.15,431.95 1040.26,424.95 1041.37,418.26 1042.48,411.86 1043.59,405.72 1044.7,399.84 1046.92,388.79 1049.14,378.57 1051.36,369.11 1053.58,360.31 1055.8,352.12 1058.02,344.47 1060.24,337.31 1062.46,330.6 1064.68,324.29 1066.9,318.35 1069.12,312.74 1071.34,307.45 1073.56,302.44 1075.78,297.69 1078,293.18 1080.22,288.9 1082.44,284.83 1084.66,280.95 1086.88,277.25 1089.1,273.71 1091.32,270.34 1093.54,267.1 1095.76,264.01 1097.98,261.04 1100.2,258.2 1102.42,255.47 1104.64,252.84 1106.86,250.31 1109.08,247.88 1111.3,245.54 1116.85,240.05 1122.4,235.03 1127.95,230.41 1133.5,226.15 1139.05,222.21 1144.6,218.55 1150.15,215.15 1155.7,211.98 1161.25,209.01 1166.8,206.24 1172.35,203.63 1177.9,201.18 1183.45,198.86 1189,196.68 1194.55,194.62 1200.1,192.67 1205.65,190.81 1211.2,189.05 1216.75,187.38 1222.3,185.79 1227.85,184.27 1233.4,182.82 1238.95,181.44 1244.5,180.12 1266.7,175.36 1288.9,171.31 1311.1,167.82 1333.3,164.78 1355.5,162.11 1377.7,159.75 1399.9,157.65 1422.1,155.76 1444.3,154.06 1466.5,152.52 1488.7,151.11 1510.9,149.82 1533.1,148.64 1555.3,147.56 1577.5,146.55 1599.7,145.62 1621.9,144.75 1644.1,143.95 1666.3,143.19 1688.5,142.48" fill="none" stroke="#ff0000" stroke-width="4.6" stroke-dasharray="20 19" stroke-linejoin="round" stroke-dashoffset="18.10"/>
<rect x="1010" y="71.9" width="735.7" height="539.4" fill="none" stroke="#000" stroke-width="4.8"/>
<path d="M1022.5,611.3V622.5M1133.5,611.3V622.5M1244.5,611.3V622.5M1355.5,611.3V622.5M1466.5,611.3V622.5M1577.5,611.3V622.5M1688.5,611.3V622.5M1078,611.3V616M1189,611.3V616M1300,611.3V616M1411,611.3V616M1522,611.3V616M1633,611.3V616M1744,611.3V616" stroke="#000" stroke-width="4.6"/>
<path d="M1010,596H997.3M1010,465H997.3M1010,334H997.3M1010,203H997.3M1010,72H997.3M1010,530.5H1005M1010,399.5H1005M1010,268.5H1005M1010,137.5H1005" stroke="#000" stroke-width="4.8"/>
<text transform="translate(1013.57,650.2) scale(0.915,1)" font-size="35" stroke="#000" stroke-width="0.55">0</text>
<text transform="translate(1115.13,650.2) scale(0.915,1)" font-size="35" stroke="#000" stroke-width="0.55">10</text>
<text transform="translate(1226.53,650.2) scale(0.915,1)" font-size="35" stroke="#000" stroke-width="0.55">20</text>
<text transform="translate(1337.73,650.2) scale(0.915,1)" font-size="35" stroke="#000" stroke-width="0.55">30</text>
<text transform="translate(1448.97,650.2) scale(0.915,1)" font-size="35" stroke="#000" stroke-width="0.55">40</text>
<text transform="translate(1559.69,650.2) scale(0.915,1)" font-size="35" stroke="#000" stroke-width="0.55">50</text>
<text transform="translate(1670.53,650.2) scale(0.915,1)" font-size="35" stroke="#000" stroke-width="0.55">60</text>
<text transform="translate(974.93,605.8) scale(0.915,1)" font-size="35" stroke="#000" stroke-width="0.55">0</text>
<text transform="translate(957.15,474.8) scale(0.915,1)" font-size="35" stroke="#000" stroke-width="0.55">50</text>
<text transform="translate(939.3,343.8) scale(0.915,1)" font-size="35" stroke="#000" stroke-width="0.55">100</text>
<text transform="translate(939.3,212.8) scale(0.915,1)" font-size="35" stroke="#000" stroke-width="0.55">150</text>
<text transform="translate(939.3,81.8) scale(0.915,1)" font-size="35" stroke="#000" stroke-width="0.55">200</text>
<rect x="127.16" y="1217.72" width="14.8" height="12.5" fill="#000"/>
<rect x="141.08" y="1130.3" width="14.8" height="12.5" fill="#000"/>
<rect x="173.07" y="1063.53" width="14.8" height="12.5" fill="#000"/>
<rect x="309.35" y="950.23" width="14.8" height="12.5" fill="#000"/>
<rect x="622.05" y="832.24" width="14.8" height="12.5" fill="#000"/>
<rect x="791.78" y="797.91" width="14.8" height="12.5" fill="#000"/>
<path d="M138.44,1257.14 138.9,1254.3 139.35,1251.49 139.8,1248.71 140.25,1245.97 140.7,1243.25 141.16,1240.57 141.61,1237.92 142.06,1235.3 142.51,1232.71 142.96,1230.14 143.42,1227.61 144.14,1223.61 144.86,1219.68 145.58,1215.82 146.31,1212.03 147.03,1208.3 147.75,1204.64 148.48,1201.03 149.2,1197.49 149.92,1194 150.65,1190.58 151.37,1187.2 152.09,1183.88 152.81,1180.62 153.54,1177.4 154.26,1174.24 154.98,1171.12 155.71,1168.06 156.43,1165.04 157.15,1162.07 157.88,1159.14 158.6,1156.25 159.32,1153.41 160.04,1150.61 160.77,1147.85 161.49,1145.14 162.21,1142.46 162.94,1139.82 163.66,1137.21 164.38,1134.65 165.11,1132.12 165.83,1129.62 166.55,1127.16 167.27,1124.74 168,1122.34 168.72,1119.98 169.44,1117.65 170.17,1115.36 170.89,1113.09 171.61,1110.85 172.34,1108.65 173.06,1106.47 173.78,1104.32 174.5,1102.19 175.23,1100.1 175.95,1098.03 179.56,1088.06 183.18,1078.7 186.8,1069.87 190.41,1061.55 194.03,1053.67 197.64,1046.22 201.26,1039.16 204.87,1032.46 208.49,1026.08 212.1,1020.02 215.72,1014.24 219.33,1008.72 222.95,1003.46 226.56,998.42 230.18,993.6 233.79,988.99 237.41,984.56 241.02,980.32 244.64,976.24 248.25,972.32 251.87,968.55 255.48,964.92 259.1,961.43 262.71,958.06 266.33,954.81 269.94,951.67 273.56,948.64 277.17,945.71 280.79,942.88 284.4,940.14 299.12,929.86 313.84,920.77 328.55,912.69 343.27,905.46 357.99,898.94 372.71,893.04 387.43,887.68 402.15,882.78 416.86,878.29 431.58,874.16 446.3,870.34 461.02,866.8 475.74,863.52 490.46,860.46 505.17,857.61 519.89,854.94 534.61,852.43 549.33,850.08 564.05,847.86 578.76,845.77 593.48,843.8 608.2,841.93 622.92,840.16 637.64,838.48 652.36,836.89 667.07,835.37 681.79,833.93 696.51,832.55 711.23,831.23 725.95,829.98 740.66,828.77 755.38,827.62 770.1,826.52 784.82,825.46 799.54,824.44" fill="none" stroke="#ff0000" stroke-width="4.6" stroke-linejoin="round"/>
<path d="M139.84,1243.55 139.99,1231.57 140.13,1225.3 140.28,1220.69 140.43,1216.94 140.58,1213.74 140.73,1210.91 140.88,1208.37 141.03,1206.05 141.18,1203.91 141.33,1201.92 141.48,1200.05 141.63,1198.29 141.77,1196.61 141.92,1195.02 142.07,1193.51 142.22,1192.05 142.37,1190.66 142.52,1189.31 142.67,1188.01 142.82,1186.76 142.97,1185.55 143.12,1184.37 143.27,1183.23 143.42,1182.12 144.14,1177.13 144.86,1172.65 145.58,1168.58 146.31,1164.84 147.03,1161.35 147.75,1158.09 148.48,1155.02 149.2,1152.11 149.92,1149.35 150.65,1146.71 151.37,1144.18 152.09,1141.76 152.81,1139.43 153.54,1137.18 154.26,1135.01 154.98,1132.91 155.71,1130.87 156.43,1128.9 157.15,1126.98 157.88,1125.11 158.6,1123.29 159.32,1121.51 160.04,1119.78 160.77,1118.09 161.49,1116.43 162.21,1114.82 162.94,1113.23 163.66,1111.68 164.38,1110.16 165.11,1108.67 165.83,1107.2 166.55,1105.76 167.27,1104.35 168,1102.96 168.72,1101.6 169.44,1100.25 170.17,1098.93 170.89,1097.63 171.61,1096.35 172.34,1095.09 173.06,1093.84 173.78,1092.62 174.5,1091.41 175.23,1090.21 175.95,1089.04 179.56,1083.37 183.18,1078.04 186.8,1072.99 190.41,1068.18 194.03,1063.6 197.64,1059.22 201.26,1055.01 204.87,1050.96 208.49,1047.06 212.1,1043.29 215.72,1039.64 219.33,1036.1 222.95,1032.67 226.56,1029.33 230.18,1026.09 233.79,1022.93 237.41,1019.85 241.02,1016.84 244.64,1013.9 248.25,1011.03 251.87,1008.22 255.48,1005.46 259.1,1002.77 262.71,1000.13 266.33,997.53 269.94,994.99 273.56,992.49 277.17,990.04 280.79,987.63 284.4,985.26 299.12,975.99 313.84,967.26 328.55,959.01 343.27,951.17 357.99,943.7 372.71,936.54 387.43,929.68 402.15,923.09 416.86,916.73 431.58,910.59 446.3,904.65 461.02,898.9 475.74,893.31 490.46,887.89 505.17,882.61 519.89,877.47 534.61,872.46 549.33,867.57 564.05,862.79 578.76,858.12 593.48,853.56 608.2,849.09 622.92,844.71 637.64,840.42 652.36,836.21 667.07,832.08 681.79,828.02 696.51,824.04 711.23,820.12 725.95,816.28 740.66,812.49 755.38,808.76 770.1,805.1 784.82,801.48 799.54,797.93" fill="none" stroke="#0000ff" stroke-width="4.6" stroke-dasharray="20 17.5" stroke-linejoin="round" stroke-dashoffset="6.71"/>
<path d="M140.88,1250.79 141.03,1242.71 141.18,1235.55 141.33,1229.13 141.48,1223.31 141.63,1217.99 141.77,1213.08 141.92,1208.54 142.07,1204.3 142.22,1200.33 142.37,1196.59 142.52,1193.07 142.67,1189.74 142.82,1186.57 142.97,1183.56 143.12,1180.68 143.27,1177.94 143.42,1175.3 144.14,1163.91 144.86,1154.28 145.58,1145.94 146.31,1138.58 147.03,1131.99 147.75,1126.04 148.48,1120.6 149.2,1115.6 149.92,1110.97 150.65,1106.66 151.37,1102.63 152.09,1098.84 152.81,1095.27 153.54,1091.89 154.26,1088.69 154.98,1085.64 155.71,1082.73 156.43,1079.95 157.15,1077.29 157.88,1074.74 158.6,1072.29 159.32,1069.93 160.04,1067.66 160.77,1065.47 161.49,1063.35 162.21,1061.3 162.94,1059.32 163.66,1057.4 164.38,1055.53 165.11,1053.72 165.83,1051.96 166.55,1050.25 167.27,1048.58 168,1046.96 168.72,1045.38 169.44,1043.83 170.17,1042.33 170.89,1040.86 171.61,1039.42 172.34,1038.02 173.06,1036.64 173.78,1035.3 174.5,1033.99 175.23,1032.7 175.95,1031.43 179.56,1025.48 183.18,1020.04 186.8,1015.04 190.41,1010.41 194.03,1006.1 197.64,1002.07 201.26,998.28 204.87,994.71 208.49,991.33 212.1,988.13 215.72,985.08 219.33,982.17 222.95,979.39 226.56,976.73 230.18,974.18 233.79,971.73 237.41,969.38 241.02,967.1 244.64,964.91 248.25,962.79 251.87,960.74 255.48,958.76 259.1,956.84 262.71,954.97 266.33,953.16 269.94,951.4 273.56,949.69 277.17,948.02 280.79,946.4 284.4,944.82 299.12,938.76 313.84,933.24 328.55,928.17 343.27,923.48 357.99,919.11 372.71,915.03 387.43,911.21 402.15,907.6 416.86,904.19 431.58,900.95 446.3,897.88 461.02,894.95 475.74,892.15 490.46,889.47 505.17,886.9 519.89,884.43 534.61,882.06 549.33,879.77 564.05,877.57 578.76,875.44 593.48,873.37 608.2,871.38 622.92,869.45 637.64,867.57 652.36,865.75 667.07,863.98 681.79,862.26 696.51,860.59 711.23,858.96 725.95,857.37 740.66,855.82 755.38,854.31 770.1,852.83 784.82,851.39 799.54,849.98" fill="none" stroke="#808000" stroke-width="4.6" stroke-dasharray="25 8.5 7.5 8.5" stroke-linejoin="round" stroke-dashoffset="43.03"/>
<path d="M157.56,1258.83 160.04,1255.67 160.77,1254.74 161.49,1253.68 162.21,1252.46 162.94,1251.09 163.66,1249.56 164.38,1247.87 165.11,1246.01 165.83,1243.99 166.55,1241.8 167.27,1239.45 168,1236.94 168.72,1234.28 169.44,1231.47 170.17,1228.51 170.89,1225.42 171.61,1222.21 172.34,1218.87 173.06,1215.41 173.78,1211.86 174.5,1208.2 175.23,1204.46 175.95,1200.64 179.56,1180.62 183.18,1159.74 186.8,1138.78 190.41,1118.3 194.03,1098.68 197.64,1080.16 201.26,1062.85 204.87,1046.8 208.49,1032 212.1,1018.4 215.72,1005.93 219.33,994.53 222.95,984.1 226.56,974.57 230.18,965.86 233.79,957.9 237.41,950.61 241.02,943.94 244.64,937.82 248.25,932.2 251.87,927.04 255.48,922.3 259.1,917.92 262.71,913.89 266.33,910.16 269.94,906.72 273.56,903.53 277.17,900.57 280.79,897.83 284.4,895.27 299.12,886.56 313.84,879.93 328.55,874.8 343.27,870.77 357.99,867.56 372.71,864.96 387.43,862.84 402.15,861.09 416.86,859.63 431.58,858.4 446.3,857.36 461.02,856.47 475.74,855.71 490.46,855.05 505.17,854.47 519.89,853.97 534.61,853.53 549.33,853.14 564.05,852.8 578.76,852.49 593.48,852.22 608.2,851.97 622.92,851.75 637.64,851.55 652.36,851.38 667.07,851.21 681.79,851.06 696.51,850.93 711.23,850.81 725.95,850.69 740.66,850.59 755.38,850.5 770.1,850.41 784.82,850.33 799.54,850.25" fill="none" stroke="#008080" stroke-width="4.6" stroke-linejoin="round"/>
<rect x="130" y="723.2" width="732.8" height="536.3" fill="none" stroke="#000" stroke-width="4.8"/>
<path d="M139.8,1259.5V1269.3M230.18,1259.5V1269.3M320.55,1259.5V1269.3M410.93,1259.5V1269.3M501.3,1259.5V1269.3M591.67,1259.5V1269.3M682.05,1259.5V1269.3M772.42,1259.5V1269.3M862.8,1259.5V1269.3M184.99,1259.5V1264.5M275.36,1259.5V1264.5M365.74,1259.5V1264.5M456.11,1259.5V1264.5M546.49,1259.5V1264.5M636.86,1259.5V1264.5M727.24,1259.5V1264.5M817.61,1259.5V1264.5" stroke="#000" stroke-width="4.6"/>
<path d="M130,1259.5H120M130,1125.42H120M130,991.34H120M130,857.26H120M130,723.18H120M130,1192.46H124.7M130,1058.38H124.7M130,924.3H124.7M130,790.22H124.7" stroke="#000" stroke-width="4.8"/>
<text transform="translate(130.87,1301) scale(0.915,1)" font-size="35" stroke="#000" stroke-width="0.55">0</text>
<text transform="translate(212.36,1301) scale(0.915,1)" font-size="35" stroke="#000" stroke-width="0.55">50</text>
<text transform="translate(293.25,1301) scale(0.915,1)" font-size="35" stroke="#000" stroke-width="0.55">100</text>
<text transform="translate(383.62,1301) scale(0.915,1)" font-size="35" stroke="#000" stroke-width="0.55">150</text>
<text transform="translate(474.4,1301) scale(0.915,1)" font-size="35" stroke="#000" stroke-width="0.55">200</text>
<text transform="translate(564.77,1301) scale(0.915,1)" font-size="35" stroke="#000" stroke-width="0.55">250</text>
<text transform="translate(655.35,1301) scale(0.915,1)" font-size="35" stroke="#000" stroke-width="0.55">300</text>
<text transform="translate(745.72,1301) scale(0.915,1)" font-size="35" stroke="#000" stroke-width="0.55">350</text>
<text transform="translate(836.34,1301) scale(0.915,1)" font-size="35" stroke="#000" stroke-width="0.55">400</text>
<text transform="translate(92.43,1266.5) scale(0.915,1)" font-size="35" stroke="#000" stroke-width="0.55">0</text>
<text transform="translate(56.8,1132.42) scale(0.915,1)" font-size="35" stroke="#000" stroke-width="0.55">100</text>
<text transform="translate(56.8,998.34) scale(0.915,1)" font-size="35" stroke="#000" stroke-width="0.55">200</text>
<text transform="translate(56.8,864.26) scale(0.915,1)" font-size="35" stroke="#000" stroke-width="0.55">300</text>
<text transform="translate(56.8,730.18) scale(0.915,1)" font-size="35" stroke="#000" stroke-width="0.55">400</text>
<rect x="1010.94" y="1235.66" width="14.8" height="12.5" fill="#000"/>
<rect x="1025.95" y="1127.58" width="14.8" height="12.5" fill="#000"/>
<rect x="1051.09" y="1033.04" width="14.8" height="12.5" fill="#000"/>
<rect x="1158.15" y="923.48" width="14.8" height="12.5" fill="#000"/>
<rect x="1516.05" y="820.89" width="14.8" height="12.5" fill="#000"/>
<rect x="1667.97" y="800.24" width="14.8" height="12.5" fill="#000"/>
<path d="M1022.95,1271.28 1023.4,1266.73 1023.86,1262.26 1024.31,1257.88 1024.76,1253.58 1025.21,1249.35 1025.66,1245.2 1026.12,1241.13 1026.84,1234.76 1027.56,1228.58 1028.29,1222.56 1029.01,1216.7 1029.73,1211 1030.46,1205.46 1031.18,1200.05 1031.9,1194.79 1032.63,1189.66 1033.35,1184.66 1034.07,1179.78 1034.8,1175.03 1035.52,1170.39 1036.24,1165.85 1036.97,1161.43 1037.69,1157.11 1038.41,1152.89 1039.14,1148.76 1039.86,1144.73 1040.59,1140.79 1041.31,1136.94 1042.03,1133.17 1042.76,1129.48 1043.48,1125.87 1044.2,1122.33 1044.93,1118.87 1045.65,1115.49 1046.37,1112.17 1047.1,1108.92 1047.82,1105.73 1048.54,1102.61 1049.27,1099.54 1049.99,1096.54 1050.71,1093.6 1051.44,1090.71 1052.16,1087.88 1052.88,1085.1 1053.61,1082.37 1054.33,1079.69 1055.05,1077.06 1055.78,1074.48 1056.5,1071.95 1057.22,1069.46 1057.95,1067.01 1058.67,1064.61 1062.29,1053.19 1065.9,1042.69 1069.52,1033 1073.14,1024.03 1076.76,1015.7 1080.37,1007.95 1083.99,1000.72 1087.61,993.95 1091.22,987.61 1094.84,981.65 1098.46,976.04 1102.07,970.76 1105.69,965.77 1109.31,961.05 1112.92,956.58 1116.54,952.34 1120.16,948.31 1123.78,944.47 1127.39,940.83 1131.01,937.35 1134.63,934.02 1138.24,930.85 1141.86,927.82 1145.48,924.91 1149.1,922.13 1152.71,919.46 1156.33,916.89 1159.95,914.43 1163.56,912.06 1167.18,909.78 1181.75,901.42 1196.32,894.15 1210.89,887.79 1225.47,882.17 1240.04,877.17 1254.61,872.69 1269.18,868.66 1283.75,865.01 1298.32,861.68 1312.89,858.65 1327.46,855.87 1342.04,853.3 1356.61,850.94 1371.18,848.75 1385.75,846.71 1400.32,844.82 1414.89,843.05 1429.46,841.39 1444.04,839.84 1458.61,838.38 1473.18,837 1487.75,835.71 1502.32,834.48 1516.89,833.33 1531.46,832.23 1546.03,831.19 1560.61,830.2 1575.18,829.26 1589.75,828.36 1604.32,827.5 1618.89,826.69 1633.46,825.91 1648.03,825.16 1662.61,824.45 1677.18,823.76" fill="none" stroke="#ff0000" stroke-width="4.3" stroke-linejoin="round"/>
<path d="M1022.54,1220.34 1022.69,1196.91 1022.83,1186.15 1022.98,1178.68 1023.13,1172.85 1023.28,1168 1023.43,1163.83 1023.58,1160.15 1023.73,1156.85 1023.88,1153.85 1024.03,1151.09 1024.18,1148.54 1024.33,1146.15 1024.48,1143.92 1024.62,1141.81 1024.77,1139.81 1024.92,1137.92 1025.07,1136.11 1025.22,1134.38 1025.37,1132.73 1025.52,1131.14 1025.67,1129.61 1025.82,1128.14 1025.97,1126.71 1026.12,1125.34 1026.84,1119.23 1027.56,1113.88 1028.29,1109.09 1029.01,1104.75 1029.73,1100.77 1030.46,1097.08 1031.18,1093.66 1031.9,1090.44 1032.63,1087.42 1033.35,1084.56 1034.07,1081.84 1034.8,1079.25 1035.52,1076.78 1036.24,1074.42 1036.97,1072.15 1037.69,1069.96 1038.41,1067.86 1039.14,1065.83 1039.86,1063.86 1040.59,1061.96 1041.31,1060.12 1042.03,1058.34 1042.76,1056.6 1043.48,1054.91 1044.2,1053.27 1044.93,1051.66 1045.65,1050.1 1046.37,1048.58 1047.1,1047.09 1047.82,1045.63 1048.54,1044.21 1049.27,1042.82 1049.99,1041.46 1050.71,1040.12 1051.44,1038.81 1052.16,1037.53 1052.88,1036.27 1053.61,1035.03 1054.33,1033.82 1055.05,1032.62 1055.78,1031.45 1056.5,1030.3 1057.22,1029.17 1057.95,1028.05 1058.67,1026.95 1062.29,1021.71 1065.9,1016.82 1069.52,1012.24 1073.14,1007.93 1076.76,1003.86 1080.37,999.99 1083.99,996.3 1087.61,992.78 1091.22,989.41 1094.84,986.17 1098.46,983.06 1102.07,980.06 1105.69,977.17 1109.31,974.37 1112.92,971.67 1116.54,969.04 1120.16,966.49 1123.78,964.02 1127.39,961.61 1131.01,959.27 1134.63,956.99 1138.24,954.76 1141.86,952.59 1145.48,950.47 1149.1,948.4 1152.71,946.37 1156.33,944.39 1159.95,942.44 1163.56,940.54 1167.18,938.68 1181.75,931.51 1196.32,924.84 1210.89,918.59 1225.47,912.71 1240.04,907.15 1254.61,901.87 1269.18,896.85 1283.75,892.05 1298.32,887.46 1312.89,883.05 1327.46,878.81 1342.04,874.72 1356.61,870.78 1371.18,866.97 1385.75,863.29 1400.32,859.71 1414.89,856.25 1429.46,852.88 1444.04,849.6 1458.61,846.41 1473.18,843.31 1487.75,840.28 1502.32,837.32 1516.89,834.43 1531.46,831.61 1546.03,828.85 1560.61,826.15 1575.18,823.51 1589.75,820.92 1604.32,818.38 1618.89,815.89 1633.46,813.45 1648.03,811.06 1662.61,808.7 1677.18,806.39" fill="none" stroke="#0000ff" stroke-width="4.3" stroke-dasharray="20 17.5" stroke-linejoin="round" stroke-dashoffset="24.65"/>
<path d="M1023.88,1272.36 1024.03,1264.79 1024.18,1257.92 1024.33,1251.63 1024.48,1245.84 1024.62,1240.47 1024.77,1235.47 1024.92,1230.78 1025.07,1226.37 1025.22,1222.22 1025.37,1218.28 1025.52,1214.54 1025.67,1210.99 1025.82,1207.59 1025.97,1204.35 1026.12,1201.24 1026.84,1187.8 1027.56,1176.43 1028.29,1166.58 1029.01,1157.89 1029.73,1150.12 1030.46,1143.09 1031.18,1136.67 1031.9,1130.77 1032.63,1125.3 1033.35,1120.21 1034.07,1115.45 1034.8,1110.98 1035.52,1106.77 1036.24,1102.78 1036.97,1099 1037.69,1095.4 1038.41,1091.97 1039.14,1088.69 1039.86,1085.55 1040.59,1082.54 1041.31,1079.65 1042.03,1076.86 1042.76,1074.18 1043.48,1071.59 1044.2,1069.09 1044.93,1066.67 1045.65,1064.33 1046.37,1062.06 1047.1,1059.86 1047.82,1057.72 1048.54,1055.64 1049.27,1053.62 1049.99,1051.66 1050.71,1049.74 1051.44,1047.87 1052.16,1046.05 1052.88,1044.27 1053.61,1042.54 1054.33,1040.84 1055.05,1039.19 1055.78,1037.57 1056.5,1035.98 1057.22,1034.43 1057.95,1032.91 1058.67,1031.42 1062.29,1024.39 1065.9,1017.97 1069.52,1012.06 1073.14,1006.6 1076.76,1001.51 1080.37,996.75 1083.99,992.28 1087.61,988.06 1091.22,984.08 1094.84,980.29 1098.46,976.69 1102.07,973.26 1105.69,969.98 1109.31,966.85 1112.92,963.83 1116.54,960.94 1120.16,958.16 1123.78,955.48 1127.39,952.89 1131.01,950.39 1134.63,947.97 1138.24,945.63 1141.86,943.36 1145.48,941.16 1149.1,939.02 1152.71,936.94 1156.33,934.92 1159.95,932.95 1163.56,931.04 1167.18,929.17 1181.75,922.09 1196.32,915.63 1210.89,909.7 1225.47,904.2 1240.04,899.09 1254.61,894.31 1269.18,889.82 1283.75,885.58 1298.32,881.58 1312.89,877.78 1327.46,874.17 1342.04,870.73 1356.61,867.44 1371.18,864.29 1385.75,861.27 1400.32,858.37 1414.89,855.58 1429.46,852.89 1444.04,850.3 1458.61,847.79 1473.18,845.37 1487.75,843.02 1502.32,840.75 1516.89,838.54 1531.46,836.4 1546.03,834.31 1560.61,832.29 1575.18,830.32 1589.75,828.4 1604.32,826.53 1618.89,824.7 1633.46,822.92 1648.03,821.19 1662.61,819.49 1677.18,817.83" fill="none" stroke="#808000" stroke-width="4.3" stroke-dasharray="25 8.5 7.5 8.5" stroke-linejoin="round" stroke-dashoffset="36.18"/>
<path d="M1033.09,1273.83 1034.8,1269.86 1035.52,1268.18 1036.24,1266.14 1036.97,1263.71 1037.69,1260.9 1038.41,1257.68 1039.14,1254.08 1039.86,1250.09 1040.59,1245.74 1041.31,1241.05 1042.03,1236.04 1042.76,1230.74 1043.48,1225.18 1044.2,1219.39 1044.93,1213.39 1045.65,1207.23 1046.37,1200.93 1047.1,1194.51 1047.82,1188.01 1048.54,1181.44 1049.27,1174.84 1049.99,1168.22 1050.71,1161.6 1051.44,1154.99 1052.16,1148.43 1052.88,1141.91 1053.61,1135.45 1054.33,1129.06 1055.05,1122.76 1055.78,1116.54 1056.5,1110.42 1057.22,1104.41 1057.95,1098.5 1058.67,1092.7 1062.29,1065.46 1065.9,1041.19 1069.52,1019.8 1073.14,1001.06 1076.76,984.67 1080.37,970.35 1083.99,957.83 1087.61,946.86 1091.22,937.24 1094.84,928.77 1098.46,921.3 1102.07,914.69 1105.69,908.82 1109.31,903.59 1112.92,898.93 1116.54,894.75 1120.16,891 1123.78,887.62 1127.39,884.57 1131.01,881.81 1134.63,879.31 1138.24,877.03 1141.86,874.95 1145.48,873.06 1149.1,871.32 1152.71,869.73 1156.33,868.26 1159.95,866.91 1163.56,865.67 1167.18,864.52 1181.75,860.68 1196.32,857.81 1210.89,855.6 1225.47,853.88 1240.04,852.52 1254.61,851.42 1269.18,850.53 1283.75,849.8 1298.32,849.19 1312.89,848.67 1327.46,848.24 1342.04,847.87 1356.61,847.55 1371.18,847.27 1385.75,847.03 1400.32,846.82 1414.89,846.64 1429.46,846.48 1444.04,846.34 1458.61,846.21 1473.18,846.09 1487.75,845.99 1502.32,845.9 1516.89,845.82 1531.46,845.74 1546.03,845.67 1560.61,845.61 1575.18,845.55 1589.75,845.5 1604.32,845.45 1618.89,845.41 1633.46,845.37 1648.03,845.33 1662.61,845.3 1677.18,845.27" fill="none" stroke="#008080" stroke-width="4.3" stroke-linejoin="round"/>
<rect x="1012.6" y="738.1" width="733.3" height="536.5" fill="none" stroke="#000" stroke-width="4.8"/>
<path d="M1022.5,1274.6V1284.3M1112.92,1274.6V1284.3M1203.35,1274.6V1284.3M1293.78,1274.6V1284.3M1384.2,1274.6V1284.3M1474.62,1274.6V1284.3M1565.05,1274.6V1284.3M1655.47,1274.6V1284.3M1745.9,1274.6V1284.3M1067.71,1274.6V1279.5M1158.14,1274.6V1279.5M1248.56,1274.6V1279.5M1338.99,1274.6V1279.5M1429.41,1274.6V1279.5M1519.84,1274.6V1279.5M1610.26,1274.6V1279.5M1700.69,1274.6V1279.5" stroke="#000" stroke-width="4.6"/>
<path d="M1012.6,1274.5H1002.6M1012.6,1140.4H1002.6M1012.6,1006.3H1002.6M1012.6,872.2H1002.6M1012.6,738.1H1002.6M1012.6,1207.45H1007.5M1012.6,1073.35H1007.5M1012.6,939.25H1007.5M1012.6,805.15H1007.5" stroke="#000" stroke-width="4.8"/>
<text transform="translate(1013.57,1316.3) scale(0.915,1)" font-size="35" stroke="#000" stroke-width="0.55">0</text>
<text transform="translate(1095.11,1316.3) scale(0.915,1)" font-size="35" stroke="#000" stroke-width="0.55">50</text>
<text transform="translate(1176.05,1316.3) scale(0.915,1)" font-size="35" stroke="#000" stroke-width="0.55">100</text>
<text transform="translate(1266.47,1316.3) scale(0.915,1)" font-size="35" stroke="#000" stroke-width="0.55">150</text>
<text transform="translate(1357.3,1316.3) scale(0.915,1)" font-size="35" stroke="#000" stroke-width="0.55">200</text>
<text transform="translate(1447.72,1316.3) scale(0.915,1)" font-size="35" stroke="#000" stroke-width="0.55">250</text>
<text transform="translate(1538.35,1316.3) scale(0.915,1)" font-size="35" stroke="#000" stroke-width="0.55">300</text>
<text transform="translate(1628.77,1316.3) scale(0.915,1)" font-size="35" stroke="#000" stroke-width="0.55">350</text>
<text transform="translate(1719.44,1316.3) scale(0.915,1)" font-size="35" stroke="#000" stroke-width="0.55">400</text>
<text transform="translate(974.93,1281.8) scale(0.915,1)" font-size="35" stroke="#000" stroke-width="0.55">0</text>
<text transform="translate(939.3,1147.7) scale(0.915,1)" font-size="35" stroke="#000" stroke-width="0.55">100</text>
<text transform="translate(939.3,1013.6) scale(0.915,1)" font-size="35" stroke="#000" stroke-width="0.55">200</text>
<text transform="translate(939.3,879.5) scale(0.915,1)" font-size="35" stroke="#000" stroke-width="0.55">300</text>
<text transform="translate(939.3,745.4) scale(0.915,1)" font-size="35" stroke="#000" stroke-width="0.55">400</text>
<rect x="144.75" y="7.3" width="15.5" height="12.6" fill="#000"/>
<circle cx="335.4" cy="13.1" r="8.6" fill="#808000"/>
<path d="M520,4.5L528.7,19.5L511.3,19.5Z" fill="#0000ff"/>
<path d="M703.2,22.05L710.8,6.55L695.6,6.55Z" fill="#ff00ff"/>
<path d="M151.4,41.8L160.3,50.7L151.4,59.6L142.5,50.7Z" fill="#008000"/>
<path d="M325.6,50.7L341.2,41.9L341.2,59.5Z" fill="#000080"/>
<text transform="translate(190.58,21.8) scale(0.9967,1)" font-size="31" stroke="#000" stroke-width="0.55">10 mg/L</text>
<text transform="translate(373.44,21.8) scale(1.0052,1)" font-size="31" stroke="#000" stroke-width="0.55">20 mg/L</text>
<text transform="translate(559.12,21.8) scale(0.972,1)" font-size="31" stroke="#000" stroke-width="0.55">40 mg/L</text>
<text transform="translate(743.48,21.8) scale(0.9778,1)" font-size="31" stroke="#000" stroke-width="0.55">60 mg/L</text>
<text transform="translate(191.19,59) scale(0.9912,1)" font-size="31" stroke="#000" stroke-width="0.55">80 mg/L</text>
<text transform="translate(374.96,59) scale(0.9646,1)" font-size="31" stroke="#000" stroke-width="0.55">100 mg/L</text>
<path d="M518.6,50.6H585.9" stroke="#000" stroke-width="2.3"/>
<text transform="translate(590.58,59) scale(0.9451,1)" font-size="31" stroke="#000" stroke-width="0.55">PFO</text>
<path d="M658.6,49.6H678.4M698.2,49.6H718" stroke="#f00" stroke-width="4.3"/>
<text transform="translate(732.65,59) scale(0.9193,1)" font-size="31" stroke="#000" stroke-width="0.55">PSO</text>
<rect x="1044.75" y="7.3" width="15.5" height="12.6" fill="#000"/>
<circle cx="1244.3" cy="13.1" r="7.3" fill="#808000"/>
<path d="M1435,4.5L1443.7,19.5L1426.3,19.5Z" fill="#0000ff"/>
<path d="M1618.6,22.05L1626.2,6.55L1611,6.55Z" fill="#ff00ff"/>
<path d="M1053.5,41.8L1062.4,50.7L1053.5,59.6L1044.6,50.7Z" fill="#008000"/>
<path d="M1233.1,50.7L1248.7,41.9L1248.7,59.5Z" fill="#000080"/>
<text transform="translate(1091.91,21.8) scale(0.9829,1)" font-size="31" stroke="#000" stroke-width="0.55">10 mg/L</text>
<text transform="translate(1282.86,21.8) scale(0.9952,1)" font-size="31" stroke="#000" stroke-width="0.55">20 mg/L</text>
<text transform="translate(1474.52,21.8) scale(0.9757,1)" font-size="31" stroke="#000" stroke-width="0.55">40 mg/L</text>
<text transform="translate(1658.29,21.8) scale(0.9741,1)" font-size="31" stroke="#000" stroke-width="0.55">60 mg/L</text>
<text transform="translate(1091.8,59) scale(0.9839,1)" font-size="31" stroke="#000" stroke-width="0.55">80 mg/L</text>
<text transform="translate(1284.96,59) scale(0.963,1)" font-size="31" stroke="#000" stroke-width="0.55">100 mg/L</text>
<path d="M1419,50.6H1483.4" stroke="#000" stroke-width="2.3"/>
<text transform="translate(1490.95,59) scale(0.9585,1)" font-size="31" stroke="#000" stroke-width="0.55">PFO</text>
<path d="M1558.5,49.6H1578.9M1596,49.6H1618.6" stroke="#f00" stroke-width="4.3"/>
<text transform="translate(1632.72,59) scale(0.9307,1)" font-size="31" stroke="#000" stroke-width="0.55">PSO</text>
<text x="138.07" y="117.6" font-size="42.5" font-weight="bold">(a)</text>
<text x="1021.04" y="116.6" font-size="34.5" stroke="#000" stroke-width="0.55">(b)</text>
<text x="145.34" y="770.6" font-size="34.5" stroke="#000" stroke-width="0.55">(c)</text>
<text x="1024.04" y="788.3" font-size="34.5" stroke="#000" stroke-width="0.55">(d)</text>
<text transform="translate(416.59,692.7) scale(0.98,1)" font-size="33.5" font-weight="bold">t,min</text>
<text x="1331.76" y="707.9" font-size="35" font-weight="bold">t, min</text>
<text transform="translate(27.3,407.4) rotate(-90)" font-size="34" font-weight="bold" >q<tspan dy="12.4">t</tspan><tspan dy="-12.4">,mg/g</tspan></text>
<text transform="translate(915.2,431.4) rotate(-90)" font-size="34" font-weight="bold" >q<tspan dy="12.4">t</tspan><tspan dy="-12.4">, mg/g</tspan></text>
<text transform="translate(40.2,1016.1) rotate(-90)" font-size="32.4" font-weight="bold" >q<tspan dy="7">e</tspan><tspan dy="-7">, mg/g</tspan></text>
<text transform="translate(927.9,1036.7) rotate(-90)" font-size="31.8" font-weight="bold" >q<tspan dy="7">e</tspan><tspan dy="-7">, mg/g</tspan></text>
<text x="425.47" y="1354.2" font-size="34.5" stroke="#000" stroke-width="0.55">C<tspan font-weight="bold" stroke-width="0" dy="7.2">e</tspan><tspan dy="-7.2">, mg/L</tspan></text>
<text x="1308.48" y="1369.3" font-size="34.5" stroke="#000" stroke-width="0.55">C<tspan font-weight="bold" stroke-width="0" dy="7.2">e</tspan><tspan dy="-7.2">, mg/L</tspan></text>
<rect x="663.2" y="1055" width="12.8" height="14.8" fill="#000"/>
<text transform="translate(704.66,1070) scale(0.985,1)" font-size="35" stroke="#000" stroke-width="0.55">Phenol</text>
<path d="M638.4,1102.4H700.9" stroke="#f00" stroke-width="4.8"/>
<text transform="translate(704.66,1109.8) scale(0.985,1)" font-size="35" stroke="#000" stroke-width="0.55">Langmuir</text>
<path d="M638.4,1142.6h19.9m17.6,0h20.2" stroke="#00f" stroke-width="4.8" fill="none"/>
<text transform="translate(704.66,1149.6) scale(0.985,1)" font-size="35" stroke="#000" stroke-width="0.55">Frendlich</text>
<path d="M638.4,1182h23.5m8.5,0h7.3m8.2,0h15" stroke="#808000" stroke-width="4.8" fill="none"/>
<text transform="translate(705.22,1189.4) scale(0.985,1)" font-size="35" stroke="#000" stroke-width="0.55">Temkin</text>
<path d="M638.4,1221.8H700.9" stroke="#008080" stroke-width="4.8"/>
<text transform="translate(704.66,1229.2) scale(0.985,1)" font-size="35" stroke="#000" stroke-width="0.55">D-R</text>
<rect x="1526.2" y="1045" width="12.8" height="14.8" fill="#000"/>
<text transform="translate(1567.66,1060.1) scale(0.985,1)" font-size="35" stroke="#000" stroke-width="0.55">BPA</text>
<path d="M1501.4,1092.5H1564" stroke="#f00" stroke-width="4.8"/>
<text transform="translate(1567.66,1099.9) scale(0.985,1)" font-size="35" stroke="#000" stroke-width="0.55">Langmuir</text>
<path d="M1501.4,1132.7h19.9m17.6,0h20.2" stroke="#00f" stroke-width="4.8" fill="none"/>
<text transform="translate(1567.66,1139.7) scale(0.985,1)" font-size="35" stroke="#000" stroke-width="0.55">Frendlich</text>
<path d="M1501.4,1172.1h23.5m8.5,0h7.3m8.2,0h15.1" stroke="#808000" stroke-width="4.8" fill="none"/>
<text transform="translate(1568.22,1179.5) scale(0.985,1)" font-size="35" stroke="#000" stroke-width="0.55">Temkin</text>
<path d="M1501.4,1211.9H1564" stroke="#008080" stroke-width="4.8"/>
<text transform="translate(1567.66,1219.3) scale(0.985,1)" font-size="35" stroke="#000" stroke-width="0.55">D-R</text>
</svg></body></html>
